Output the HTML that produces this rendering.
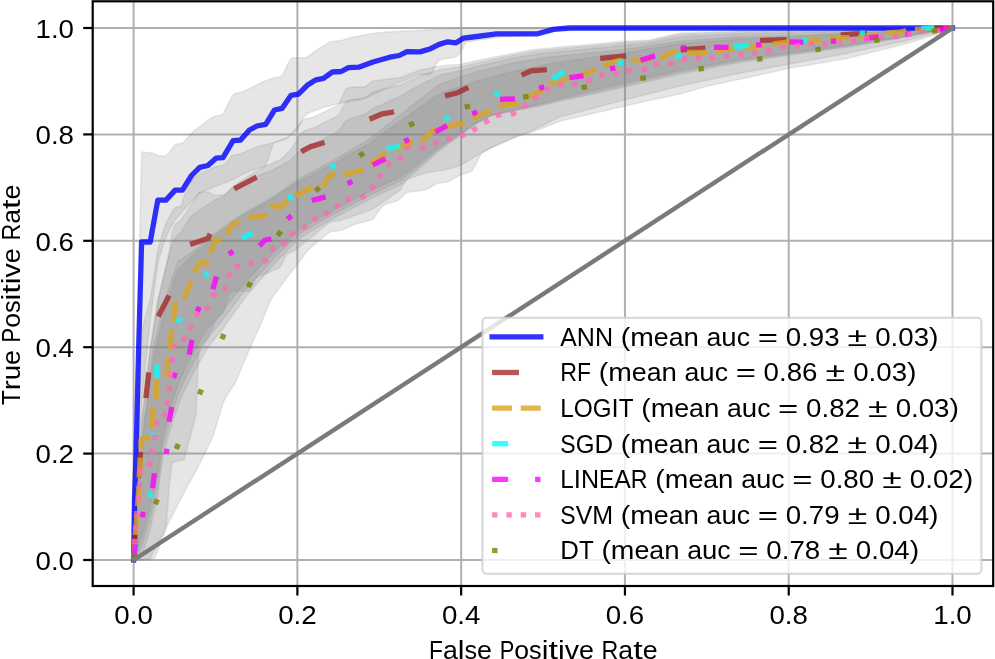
<!DOCTYPE html>
<html><head><meta charset="utf-8"><style>
html,body{margin:0;padding:0;background:#fff;}
svg{display:block;}
text{font-family:"Liberation Sans",sans-serif;fill:#000;}
svg{will-change:transform;}
</style></head><body>
<svg width="995" height="659" viewBox="0 0 995 659">
<rect width="995" height="659" fill="#fff"/>
<line x1="133.60" y1="1.3" x2="133.60" y2="586.0" stroke="#b0b0b0" stroke-width="2"/>
<line x1="92.7" y1="560.00" x2="993.2" y2="560.00" stroke="#b0b0b0" stroke-width="2"/>
<line x1="297.38" y1="1.3" x2="297.38" y2="586.0" stroke="#b0b0b0" stroke-width="2"/>
<line x1="92.7" y1="453.60" x2="993.2" y2="453.60" stroke="#b0b0b0" stroke-width="2"/>
<line x1="461.16" y1="1.3" x2="461.16" y2="586.0" stroke="#b0b0b0" stroke-width="2"/>
<line x1="92.7" y1="347.20" x2="993.2" y2="347.20" stroke="#b0b0b0" stroke-width="2"/>
<line x1="624.94" y1="1.3" x2="624.94" y2="586.0" stroke="#b0b0b0" stroke-width="2"/>
<line x1="92.7" y1="240.80" x2="993.2" y2="240.80" stroke="#b0b0b0" stroke-width="2"/>
<line x1="788.72" y1="1.3" x2="788.72" y2="586.0" stroke="#b0b0b0" stroke-width="2"/>
<line x1="92.7" y1="134.40" x2="993.2" y2="134.40" stroke="#b0b0b0" stroke-width="2"/>
<line x1="952.50" y1="1.3" x2="952.50" y2="586.0" stroke="#b0b0b0" stroke-width="2"/>
<line x1="92.7" y1="28.00" x2="993.2" y2="28.00" stroke="#b0b0b0" stroke-width="2"/>
<polygon points="133.6,560.0 134.6,532.3 135.6,504.6 136.6,476.9 137.6,449.2 138.6,421.4 139.6,393.7 140.6,366.0 141.6,338.3 142.6,327.4 143.6,323.8 144.6,320.1 145.6,316.5 146.6,312.8 147.6,309.1 148.6,305.5 149.6,301.8 150.6,296.8 151.6,290.3 152.6,283.8 153.6,277.3 154.6,270.8 155.6,264.3 156.6,257.8 157.6,251.3 158.6,247.2 159.6,243.8 160.0,242.4 163.0,231.9 166.0,223.1 169.0,217.5 172.0,211.9 175.0,207.6 178.0,207.0 181.0,206.4 184.0,196.4 187.0,189.0 190.0,182.9 193.0,178.3 196.0,176.0 199.0,174.3 202.0,172.9 205.0,171.5 208.0,170.1 211.0,168.7 214.0,167.3 217.0,166.4 220.0,165.9 223.0,165.4 226.0,163.1 229.0,159.2 232.0,155.5 235.0,154.9 238.0,154.4 241.0,153.6 244.0,152.3 247.0,151.0 250.0,149.8 253.0,148.5 256.0,147.3 259.0,146.1 262.0,145.3 265.0,144.7 268.0,144.0 271.0,143.3 274.0,142.5 277.0,141.3 280.0,140.0 283.0,138.9 286.0,137.9 289.0,136.8 292.0,133.6 295.0,129.3 298.0,125.0 301.0,122.3 304.0,119.5 307.0,118.5 310.0,117.9 313.0,117.2 316.0,116.0 319.0,114.5 322.0,113.0 325.0,111.4 328.0,109.9 331.0,108.5 334.0,107.2 337.0,105.8 340.0,102.0 343.0,94.9 346.0,88.9 349.0,87.8 352.0,87.1 355.0,87.1 358.0,87.1 361.0,87.1 364.0,87.1 367.0,85.3 370.0,83.0 373.0,80.9 376.0,80.5 379.0,80.1 382.0,79.8 385.0,79.4 388.0,79.0 391.0,78.6 394.0,78.2 397.0,77.9 400.0,77.5 403.0,76.4 406.0,75.2 409.0,74.1 412.0,73.0 415.0,71.9 418.0,70.8 421.0,69.8 424.0,69.2 427.0,68.6 430.0,68.0 433.0,67.4 436.0,66.8 439.0,66.2 442.0,65.8 445.0,65.5 448.0,65.3 451.0,65.0 454.0,64.7 457.0,64.5 460.0,64.2 463.0,63.8 466.0,63.1 469.0,62.4 472.0,61.8 475.0,61.1 478.0,60.4 481.0,59.8 484.0,59.2 487.0,58.6 490.0,58.0 493.0,57.4 496.0,56.8 499.0,56.2 502.0,55.6 505.0,55.0 508.0,54.4 511.0,53.8 514.0,53.2 517.0,52.6 520.0,52.0 523.0,51.4 526.0,50.8 529.0,50.2 532.0,49.8 535.0,49.5 538.0,49.2 541.0,48.9 544.0,48.6 547.0,48.3 550.0,48.0 553.0,47.7 556.0,47.4 559.0,47.1 562.0,46.8 565.0,46.6 568.0,46.3 571.0,46.1 574.0,45.8 577.0,45.6 580.0,45.3 583.0,45.1 586.0,44.8 589.0,44.6 592.0,44.3 595.0,44.0 598.0,43.7 601.0,43.4 604.0,43.1 607.0,42.8 610.0,42.5 613.0,42.2 616.0,41.9 619.0,41.6 622.0,41.4 625.0,41.2 628.0,41.1 631.0,41.0 634.0,40.8 637.0,40.6 640.0,40.5 643.0,40.4 646.0,40.2 649.0,40.0 652.0,39.5 655.0,38.8 658.0,38.1 661.0,37.4 664.0,36.7 667.0,36.0 670.0,35.3 673.0,34.6 676.0,33.9 679.0,33.2 682.0,32.9 685.0,32.8 688.0,32.8 691.0,32.7 694.0,32.6 697.0,32.5 700.0,32.4 703.0,32.3 706.0,32.2 709.0,32.1 712.0,32.0 715.0,31.9 718.0,31.8 721.0,31.8 724.0,31.7 727.0,31.6 730.0,31.5 733.0,31.4 736.0,31.3 739.0,31.2 742.0,31.1 745.0,31.1 748.0,31.0 751.0,30.9 754.0,30.8 757.0,30.7 760.0,30.7 763.0,30.6 766.0,30.5 769.0,30.4 772.0,30.3 775.0,30.3 778.0,30.2 781.0,30.1 784.0,30.0 787.0,29.9 790.0,29.9 793.0,29.8 796.0,29.8 799.0,29.8 802.0,29.8 805.0,29.8 808.0,29.8 811.0,29.8 814.0,29.8 817.0,29.8 820.0,29.8 823.0,29.8 826.0,29.8 829.0,29.8 832.0,29.8 835.0,29.8 838.0,29.8 841.0,29.8 844.0,29.8 847.0,29.8 850.0,29.8 853.0,29.7 856.0,29.6 859.0,29.6 862.0,29.5 865.0,29.4 868.0,29.3 871.0,29.2 874.0,29.2 877.0,29.1 880.0,29.0 883.0,28.9 886.0,28.9 889.0,28.8 892.0,28.7 895.0,28.6 898.0,28.6 901.0,28.5 904.0,28.4 907.0,28.4 910.0,28.4 913.0,28.3 916.0,28.3 919.0,28.3 922.0,28.3 925.0,28.2 928.0,28.2 931.0,28.2 934.0,28.2 937.0,28.1 940.0,28.1 943.0,28.1 946.0,28.1 949.0,28.0 952.0,28.0 952.5,28.0 952.5,28.0 952.0,28.2 949.0,29.5 946.0,30.9 943.0,32.2 940.0,33.5 937.0,34.4 934.0,35.3 931.0,36.2 928.0,37.1 925.0,38.0 922.0,38.9 919.0,39.8 916.0,40.7 913.0,41.6 910.0,42.5 907.0,43.4 904.0,44.2 901.0,45.0 898.0,45.8 895.0,46.5 892.0,47.2 889.0,48.0 886.0,48.8 883.0,49.5 880.0,50.2 877.0,51.0 874.0,51.8 871.0,52.5 868.0,53.2 865.0,54.0 862.0,54.8 859.0,55.5 856.0,56.2 853.0,57.0 850.0,57.8 847.0,58.4 844.0,58.9 841.0,59.4 838.0,60.0 835.0,60.5 832.0,61.0 829.0,61.6 826.0,62.1 823.0,62.6 820.0,63.2 817.0,63.6 814.0,64.1 811.0,64.6 808.0,65.1 805.0,65.6 802.0,66.1 799.0,66.5 796.0,67.0 793.0,67.5 790.0,68.0 787.0,68.7 784.0,69.4 781.0,70.1 778.0,70.8 775.0,71.5 772.0,72.2 769.0,72.8 766.0,73.5 763.0,74.2 760.0,74.9 757.0,75.5 754.0,76.1 751.0,76.8 748.0,77.4 745.0,78.1 742.0,78.7 739.0,79.4 736.0,80.0 733.0,80.6 730.0,81.3 727.0,81.9 724.0,82.6 721.0,83.2 718.0,83.9 715.0,84.5 712.0,85.1 709.0,85.8 706.0,86.6 703.0,87.4 700.0,88.3 697.0,89.1 694.0,90.0 691.0,90.9 688.0,91.7 685.0,92.6 682.0,93.4 679.0,94.2 676.0,94.8 673.0,95.4 670.0,96.1 667.0,96.7 664.0,97.3 661.0,97.9 658.0,98.6 655.0,99.2 652.0,99.8 649.0,100.5 646.0,101.2 643.0,101.9 640.0,102.6 637.0,103.3 634.0,104.0 631.0,104.7 628.0,105.3 625.0,106.0 622.0,106.7 619.0,107.4 616.0,108.1 613.0,108.8 610.0,109.5 607.0,110.2 604.0,110.9 601.0,111.6 598.0,112.3 595.0,113.0 592.0,113.7 589.0,114.4 586.0,115.1 583.0,115.8 580.0,116.5 577.0,117.2 574.0,117.9 571.0,118.6 568.0,119.3 565.0,120.0 562.0,120.7 559.0,121.6 556.0,122.8 553.0,123.9 550.0,125.1 547.0,126.2 544.0,127.4 541.0,128.6 538.0,129.7 535.0,130.9 532.0,132.0 529.0,133.0 526.0,133.8 523.0,134.5 520.0,135.3 517.0,136.0 514.0,137.5 511.0,139.0 508.0,140.5 505.0,141.9 502.0,143.2 499.0,144.4 496.0,145.7 493.0,147.0 490.0,148.5 487.0,150.3 484.0,152.1 481.0,153.9 478.0,159.8 475.0,165.8 472.0,171.1 469.0,172.1 466.0,173.2 463.0,174.2 460.0,175.2 457.0,176.8 454.0,178.6 451.0,180.4 448.0,181.8 445.0,182.3 442.0,182.8 439.0,183.3 436.0,184.0 433.0,185.7 430.0,187.5 427.0,189.3 424.0,190.3 421.0,190.6 418.0,191.0 415.0,191.3 412.0,191.7 409.0,192.0 406.0,192.8 403.0,195.8 400.0,198.8 397.0,201.1 394.0,201.9 391.0,202.8 388.0,203.6 385.0,204.5 382.0,206.5 379.0,210.8 376.0,215.0 373.0,219.2 370.0,220.5 367.0,221.3 364.0,222.0 361.0,222.7 358.0,223.5 355.0,224.3 352.0,225.6 349.0,226.9 346.0,228.2 343.0,229.5 340.0,230.6 337.0,230.9 334.0,231.2 331.0,231.5 328.0,233.3 325.0,235.8 322.0,238.3 319.0,240.8 316.0,243.3 313.0,245.8 310.0,248.3 307.0,251.2 304.0,255.2 301.0,259.2 298.0,263.2 295.0,267.1 292.0,271.1 289.0,275.1 286.0,279.1 283.0,283.1 280.0,287.1 277.0,291.1 274.0,295.1 271.0,299.6 268.0,306.8 265.0,314.0 262.0,321.2 259.0,328.4 256.0,335.0 253.0,341.6 250.0,348.2 247.0,354.9 244.0,362.1 241.0,369.2 238.0,376.4 235.0,383.6 232.0,388.1 229.0,392.5 226.0,397.0 223.0,403.3 220.0,413.3 217.0,423.3 214.0,433.3 211.0,441.0 208.0,447.0 205.0,453.1 202.0,459.1 199.0,464.9 196.0,470.5 193.0,476.1 190.0,481.7 187.0,487.3 184.0,492.9 181.0,498.4 178.0,504.3 175.0,510.2 172.0,516.1 169.0,522.1 166.0,528.0 163.0,533.9 160.0,539.7 159.6,540.4 158.6,542.4 157.6,544.3 156.6,546.2 155.6,548.2 154.6,550.1 153.6,552.0 152.6,554.0 151.6,555.9 150.6,557.8 149.6,559.0 148.6,559.2 147.6,559.3 146.6,559.4 145.6,559.5 144.6,559.7 143.6,559.8 142.6,559.9 141.6,560.0 140.6,560.0 139.6,560.0 138.6,560.0 137.6,560.0 136.6,560.0 135.6,560.0 134.6,560.0 133.6,560.0" fill="#808080" fill-opacity="0.2" stroke="#808080" stroke-opacity="0.15" stroke-width="1.6"/>
<polygon points="133.6,560.0 134.6,543.1 135.6,526.3 136.6,509.4 137.6,492.5 138.6,475.7 139.6,458.8 140.6,441.9 141.6,425.1 142.6,414.0 143.6,405.5 144.6,397.0 145.6,388.4 146.6,379.9 147.6,371.3 148.6,362.8 149.6,354.3 150.6,346.8 151.6,340.5 152.6,334.2 153.6,327.8 154.6,321.5 155.6,315.2 156.6,308.9 157.6,302.5 158.6,297.5 159.6,293.3 160.0,291.7 163.0,279.2 166.0,266.7 169.0,254.2 172.0,232.6 175.0,224.1 178.0,222.1 181.0,220.1 184.0,215.6 187.0,211.1 190.0,206.6 193.0,201.9 196.0,197.1 199.0,192.7 202.0,192.2 205.0,191.7 208.0,191.9 211.0,193.4 214.0,195.0 217.0,195.4 220.0,195.1 223.0,194.9 226.0,193.3 229.0,190.5 232.0,187.8 235.0,185.0 238.0,183.0 241.0,181.0 244.0,179.0 247.0,177.0 250.0,175.0 253.0,173.3 256.0,171.6 259.0,169.9 262.0,168.2 265.0,166.6 268.0,165.1 271.0,163.9 274.0,162.6 277.0,161.3 280.0,160.0 283.0,157.1 286.0,154.3 289.0,151.5 292.0,147.8 295.0,142.9 298.0,137.4 301.0,133.3 304.0,130.8 307.0,129.7 310.0,128.8 313.0,128.0 316.0,126.7 319.0,125.2 322.0,123.6 325.0,122.1 328.0,120.6 331.0,119.1 334.0,117.7 337.0,116.3 340.0,112.9 343.0,106.9 346.0,101.7 349.0,100.5 352.0,99.6 355.0,99.2 358.0,98.9 361.0,98.5 364.0,98.2 367.0,96.3 370.0,94.1 373.0,91.9 376.0,91.2 379.0,90.4 382.0,89.6 385.0,88.8 388.0,88.1 391.0,87.3 394.0,86.5 397.0,85.8 400.0,85.0 403.0,83.6 406.0,82.3 409.0,80.9 412.0,79.5 415.0,78.2 418.0,76.8 421.0,75.6 424.0,74.6 427.0,73.7 430.0,72.8 433.0,71.8 436.0,70.9 439.0,69.9 442.0,69.3 445.0,68.9 448.0,68.5 451.0,68.1 454.0,67.6 457.0,67.2 460.0,66.8 463.0,66.3 466.0,65.6 469.0,64.8 472.0,64.1 475.0,63.4 478.0,62.7 481.0,62.0 484.0,61.4 487.0,60.7 490.0,60.1 493.0,59.5 496.0,58.9 499.0,58.2 502.0,57.6 505.0,57.0 508.0,56.4 511.0,55.7 514.0,55.1 517.0,54.5 520.0,54.0 523.0,53.4 526.0,52.8 529.0,52.2 532.0,51.8 535.0,51.5 538.0,51.1 541.0,50.8 544.0,50.4 547.0,50.1 550.0,49.8 553.0,49.5 556.0,49.2 559.0,48.9 562.0,48.6 565.0,48.4 568.0,48.1 571.0,47.8 574.0,47.6 577.0,47.3 580.0,47.1 583.0,46.8 586.0,46.5 589.0,46.3 592.0,46.0 595.0,45.7 598.0,45.4 601.0,45.1 604.0,44.8 607.0,44.5 610.0,44.2 613.0,43.9 616.0,43.6 619.0,43.3 622.0,43.1 625.0,42.9 628.0,42.6 631.0,42.4 634.0,42.2 637.0,42.0 640.0,41.8 643.0,41.6 646.0,41.4 649.0,41.2 652.0,40.7 655.0,40.0 658.0,39.4 661.0,38.7 664.0,38.1 667.0,37.4 670.0,36.8 673.0,36.1 676.0,35.5 679.0,34.8 682.0,34.5 685.0,34.4 688.0,34.3 691.0,34.2 694.0,34.1 697.0,33.9 700.0,33.8 703.0,33.7 706.0,33.6 709.0,33.5 712.0,33.4 715.0,33.2 718.0,33.1 721.0,33.0 724.0,32.9 727.0,32.8 730.0,32.7 733.0,32.6 736.0,32.4 739.0,32.4 742.0,32.3 745.0,32.2 748.0,32.1 751.0,32.0 754.0,32.0 757.0,31.9 760.0,31.8 763.0,31.7 766.0,31.6 769.0,31.6 772.0,31.5 775.0,31.4 778.0,31.3 781.0,31.2 784.0,31.2 787.0,31.1 790.0,31.0 793.0,30.9 796.0,30.9 799.0,30.9 802.0,30.8 805.0,30.8 808.0,30.8 811.0,30.8 814.0,30.7 817.0,30.7 820.0,30.7 823.0,30.6 826.0,30.6 829.0,30.6 832.0,30.5 835.0,30.5 838.0,30.5 841.0,30.5 844.0,30.4 847.0,30.4 850.0,30.4 853.0,30.3 856.0,30.2 859.0,30.1 862.0,30.0 865.0,29.9 868.0,29.9 871.0,29.8 874.0,29.7 877.0,29.6 880.0,29.5 883.0,29.5 886.0,29.4 889.0,29.3 892.0,29.2 895.0,29.1 898.0,29.1 901.0,29.0 904.0,28.9 907.0,28.8 910.0,28.8 913.0,28.7 916.0,28.7 919.0,28.6 922.0,28.6 925.0,28.5 928.0,28.4 931.0,28.4 934.0,28.3 937.0,28.3 940.0,28.2 943.0,28.2 946.0,28.1 949.0,28.1 952.0,28.0 952.5,28.0 952.5,28.0 952.0,28.1 949.0,29.0 946.0,29.9 943.0,30.7 940.0,31.6 937.0,32.5 934.0,33.3 931.0,34.2 928.0,35.0 925.0,35.8 922.0,36.6 919.0,37.4 916.0,38.1 913.0,38.9 910.0,39.7 907.0,40.5 904.0,41.2 901.0,41.9 898.0,42.5 895.0,43.1 892.0,43.8 889.0,44.4 886.0,45.1 883.0,45.7 880.0,46.4 877.0,47.0 874.0,47.6 871.0,48.3 868.0,48.9 865.0,49.6 862.0,50.2 859.0,50.9 856.0,51.5 853.0,52.1 850.0,52.8 847.0,53.4 844.0,53.9 841.0,54.5 838.0,55.1 835.0,55.6 832.0,56.2 829.0,56.7 826.0,57.3 823.0,57.8 820.0,58.4 817.0,59.0 814.0,59.5 811.0,60.1 808.0,60.6 805.0,61.2 802.0,61.8 799.0,62.3 796.0,62.9 793.0,63.4 790.0,64.0 787.0,64.6 784.0,65.1 781.0,65.7 778.0,66.2 775.0,66.8 772.0,67.3 769.0,67.9 766.0,68.4 763.0,69.0 760.0,69.6 757.0,70.1 754.0,70.7 751.0,71.2 748.0,71.8 745.0,72.3 742.0,72.9 739.0,73.4 736.0,74.0 733.0,74.6 730.0,75.3 727.0,75.9 724.0,76.6 721.0,77.2 718.0,77.9 715.0,78.5 712.0,79.1 709.0,79.8 706.0,80.4 703.0,81.1 700.0,81.7 697.0,82.4 694.0,83.0 691.0,83.6 688.0,84.3 685.0,84.9 682.0,85.6 679.0,86.2 676.0,87.0 673.0,87.8 670.0,88.5 667.0,89.2 664.0,90.0 661.0,90.8 658.0,91.5 655.0,92.2 652.0,93.0 649.0,93.8 646.0,94.5 643.0,95.2 640.0,96.0 637.0,96.8 634.0,97.5 631.0,98.2 628.0,99.0 625.0,99.8 622.0,100.5 619.0,101.3 616.0,102.1 613.0,102.9 610.0,103.7 607.0,104.5 604.0,105.3 601.0,106.1 598.0,106.9 595.0,107.7 592.0,108.5 589.0,109.3 586.0,110.1 583.0,110.9 580.0,111.7 577.0,112.5 574.0,113.3 571.0,114.1 568.0,114.9 565.0,115.7 562.0,116.5 559.0,117.5 556.0,119.0 553.0,120.4 550.0,121.9 547.0,123.4 544.0,124.8 541.0,126.3 538.0,127.8 535.0,129.2 532.0,130.7 529.0,132.1 526.0,133.3 523.0,134.4 520.0,135.6 517.0,136.8 514.0,137.9 511.0,139.1 508.0,140.3 505.0,141.4 502.0,142.6 499.0,143.9 496.0,145.4 493.0,146.9 490.0,148.4 487.0,149.9 484.0,151.4 481.0,153.1 478.0,155.0 475.0,156.9 472.0,158.6 469.0,160.3 466.0,162.0 463.0,163.8 460.0,165.5 457.0,166.5 454.0,167.4 451.0,168.3 448.0,169.1 445.0,169.6 442.0,170.2 439.0,170.7 436.0,171.2 433.0,171.8 430.0,172.3 427.0,172.8 424.0,173.6 421.0,174.6 418.0,175.6 415.0,176.7 412.0,177.7 409.0,178.7 406.0,180.3 403.0,185.3 400.0,190.2 397.0,192.3 394.0,194.3 391.0,196.4 388.0,198.5 385.0,200.6 382.0,202.7 379.0,204.8 376.0,206.9 373.0,209.0 370.0,210.2 367.0,211.3 364.0,212.3 361.0,213.4 358.0,214.5 355.0,215.5 352.0,216.6 349.0,217.7 346.0,218.8 343.0,219.8 340.0,220.4 337.0,220.9 334.0,221.3 331.0,221.8 328.0,223.6 325.0,226.1 322.0,228.5 319.0,231.0 316.0,233.4 313.0,235.9 310.0,238.3 307.0,240.8 304.0,243.2 301.0,245.7 298.0,248.1 295.0,250.4 292.0,251.9 289.0,253.4 286.0,254.9 283.0,262.5 280.0,267.5 277.0,268.8 274.0,270.1 271.0,271.4 268.0,272.7 265.0,274.0 262.0,275.0 259.0,276.0 256.0,278.5 253.0,284.5 250.0,290.5 247.0,291.3 244.0,291.3 241.0,291.3 238.0,291.3 235.0,291.3 232.0,291.3 229.0,294.8 226.0,303.8 223.0,312.9 220.0,316.1 217.0,319.0 214.0,324.1 211.0,331.1 208.0,337.7 205.0,340.7 202.0,343.8 199.0,346.8 196.0,415.3 193.0,426.6 190.0,437.7 187.0,448.7 184.0,459.6 181.0,460.6 178.0,461.3 175.0,461.9 172.0,462.6 169.0,489.7 166.0,529.2 163.0,537.0 160.0,544.9 159.6,546.0 158.6,548.6 157.6,551.2 156.6,553.8 155.6,556.4 154.6,558.1 153.6,558.2 152.6,558.4 151.6,558.5 150.6,558.7 149.6,558.8 148.6,559.0 147.6,559.1 146.6,559.3 145.6,559.4 144.6,559.6 143.6,559.7 142.6,559.9 141.6,560.0 140.6,560.0 139.6,560.0 138.6,560.0 137.6,560.0 136.6,560.0 135.6,560.0 134.6,560.0 133.6,560.0" fill="#808080" fill-opacity="0.2" stroke="#808080" stroke-opacity="0.15" stroke-width="1.6"/>
<polygon points="133.6,560.0 134.6,543.1 135.6,526.3 136.6,509.4 137.6,492.5 138.6,475.7 139.6,458.8 140.6,441.9 141.6,425.1 142.6,414.0 143.6,405.5 144.6,397.0 145.6,388.4 146.6,379.9 147.6,371.3 148.6,362.8 149.6,354.3 150.6,346.8 151.6,340.5 152.6,334.2 153.6,327.8 154.6,321.5 155.6,315.2 156.6,308.9 157.6,302.5 158.6,297.5 159.6,293.3 160.0,291.7 163.0,279.2 166.0,266.7 169.0,254.2 172.0,245.2 175.0,238.5 178.0,234.3 181.0,233.0 184.0,226.9 187.0,222.2 190.0,218.1 193.0,214.8 196.0,212.5 199.0,210.4 202.0,208.5 205.0,206.5 208.0,204.6 211.0,202.7 214.0,200.7 217.0,199.1 220.0,197.8 223.0,196.4 226.0,194.2 229.0,191.2 232.0,188.3 235.0,186.9 238.0,185.6 241.0,184.2 244.0,182.7 247.0,181.2 250.0,179.8 253.0,178.3 256.0,176.9 259.0,175.4 262.0,174.2 265.0,173.1 268.0,171.9 271.0,170.7 274.0,169.3 277.0,167.6 280.0,166.0 283.0,164.4 286.0,162.8 289.0,161.3 292.0,158.6 295.0,155.4 298.0,152.2 301.0,149.9 304.0,147.7 307.0,146.4 310.0,145.3 313.0,144.2 316.0,142.8 319.0,141.2 322.0,139.7 325.0,138.1 328.0,136.5 331.0,135.1 334.0,133.6 337.0,132.0 340.0,129.2 343.0,124.8 346.0,120.9 349.0,119.5 352.0,118.3 355.0,117.4 358.0,116.5 361.0,115.6 364.0,114.7 367.0,112.9 370.0,110.7 373.0,108.5 376.0,107.1 379.0,105.8 382.0,104.4 385.0,103.0 388.0,101.7 391.0,100.3 394.0,99.0 397.0,97.6 400.0,96.2 403.0,94.5 406.0,92.8 409.0,91.1 412.0,89.3 415.0,87.6 418.0,85.9 421.0,84.3 424.0,82.8 427.0,81.3 430.0,79.9 433.0,78.4 436.0,76.9 439.0,75.5 442.0,74.6 445.0,73.9 448.0,73.3 451.0,72.7 454.0,72.0 457.0,71.4 460.0,70.8 463.0,70.1 466.0,69.2 469.0,68.4 472.0,67.6 475.0,66.7 478.0,66.0 481.0,65.3 484.0,64.6 487.0,64.0 490.0,63.3 493.0,62.6 496.0,62.0 499.0,61.3 502.0,60.6 505.0,60.0 508.0,59.3 511.0,58.6 514.0,58.0 517.0,57.5 520.0,56.9 523.0,56.4 526.0,55.8 529.0,55.3 532.0,54.8 535.0,54.4 538.0,54.0 541.0,53.6 544.0,53.2 547.0,52.8 550.0,52.5 553.0,52.2 556.0,51.9 559.0,51.6 562.0,51.3 565.0,51.0 568.0,50.7 571.0,50.5 574.0,50.2 577.0,49.9 580.0,49.7 583.0,49.4 586.0,49.1 589.0,48.8 592.0,48.5 595.0,48.2 598.0,48.0 601.0,47.6 604.0,47.4 607.0,47.0 610.0,46.8 613.0,46.5 616.0,46.1 619.0,45.9 622.0,45.5 625.0,45.2 628.0,45.0 631.0,44.7 634.0,44.3 637.0,44.0 640.0,43.8 643.0,43.5 646.0,43.2 649.0,42.8 652.0,42.4 655.0,41.8 658.0,41.2 661.0,40.6 664.0,40.1 667.0,39.5 670.0,38.9 673.0,38.3 676.0,37.8 679.0,37.2 682.0,36.9 685.0,36.7 688.0,36.6 691.0,36.4 694.0,36.3 697.0,36.1 700.0,36.0 703.0,35.8 706.0,35.7 709.0,35.5 712.0,35.4 715.0,35.2 718.0,35.1 721.0,34.9 724.0,34.8 727.0,34.6 730.0,34.5 733.0,34.3 736.0,34.1 739.0,34.1 742.0,34.0 745.0,33.9 748.0,33.8 751.0,33.7 754.0,33.7 757.0,33.6 760.0,33.5 763.0,33.4 766.0,33.3 769.0,33.3 772.0,33.2 775.0,33.1 778.0,33.0 781.0,32.9 784.0,32.9 787.0,32.8 790.0,32.7 793.0,32.6 796.0,32.6 799.0,32.5 802.0,32.4 805.0,32.3 808.0,32.3 811.0,32.2 814.0,32.1 817.0,32.0 820.0,32.0 823.0,31.9 826.0,31.8 829.0,31.7 832.0,31.7 835.0,31.6 838.0,31.5 841.0,31.4 844.0,31.4 847.0,31.3 850.0,31.2 853.0,31.1 856.0,31.0 859.0,30.9 862.0,30.9 865.0,30.8 868.0,30.7 871.0,30.6 874.0,30.5 877.0,30.4 880.0,30.3 883.0,30.2 886.0,30.1 889.0,30.0 892.0,29.9 895.0,29.9 898.0,29.8 901.0,29.7 904.0,29.6 907.0,29.5 910.0,29.4 913.0,29.3 916.0,29.2 919.0,29.1 922.0,29.0 925.0,28.9 928.0,28.8 931.0,28.7 934.0,28.6 937.0,28.5 940.0,28.4 943.0,28.3 946.0,28.2 949.0,28.1 952.0,28.0 952.5,28.0 952.5,28.0 952.0,28.1 949.0,28.6 946.0,29.2 943.0,29.7 940.0,30.2 937.0,30.8 934.0,31.3 931.0,31.9 928.0,32.4 925.0,32.9 922.0,33.5 919.0,34.0 916.0,34.5 913.0,35.1 910.0,35.6 907.0,36.2 904.0,36.7 901.0,37.2 898.0,37.7 895.0,38.2 892.0,38.7 889.0,39.2 886.0,39.7 883.0,40.2 880.0,40.8 877.0,41.3 874.0,41.8 871.0,42.3 868.0,42.8 865.0,43.3 862.0,43.8 859.0,44.3 856.0,44.8 853.0,45.3 850.0,45.8 847.0,46.3 844.0,46.7 841.0,47.1 838.0,47.5 835.0,47.9 832.0,48.3 829.0,48.7 826.0,49.0 823.0,49.4 820.0,49.8 817.0,50.2 814.0,50.6 811.0,51.0 808.0,51.4 805.0,51.8 802.0,52.2 799.0,52.6 796.0,53.0 793.0,53.4 790.0,53.8 787.0,54.2 784.0,54.7 781.0,55.1 778.0,55.5 775.0,56.0 772.0,56.4 769.0,56.8 766.0,57.2 763.0,57.7 760.0,58.1 757.0,58.5 754.0,59.0 751.0,59.4 748.0,59.8 745.0,60.3 742.0,60.7 739.0,61.1 736.0,61.6 733.0,62.1 730.0,62.7 727.0,63.3 724.0,63.8 721.0,64.4 718.0,65.0 715.0,65.5 712.0,66.1 709.0,66.6 706.0,67.2 703.0,67.8 700.0,68.3 697.0,68.9 694.0,69.5 691.0,70.0 688.0,70.6 685.0,71.2 682.0,71.7 679.0,72.3 676.0,73.0 673.0,73.7 670.0,74.4 667.0,75.1 664.0,75.8 661.0,76.5 658.0,77.2 655.0,77.9 652.0,78.6 649.0,79.3 646.0,80.0 643.0,80.7 640.0,81.3 637.0,82.0 634.0,82.7 631.0,83.4 628.0,84.1 625.0,84.8 622.0,85.5 619.0,86.2 616.0,86.9 613.0,87.6 610.0,88.3 607.0,89.0 604.0,89.7 601.0,90.4 598.0,91.1 595.0,91.8 592.0,92.6 589.0,93.3 586.0,94.0 583.0,94.6 580.0,95.3 577.0,95.9 574.0,96.6 571.0,97.2 568.0,97.9 565.0,98.5 562.0,99.2 559.0,99.9 556.0,100.7 553.0,101.5 550.0,102.3 547.0,103.1 544.0,103.8 541.0,104.6 538.0,105.3 535.0,105.9 532.0,106.5 529.0,107.1 526.0,107.7 523.0,108.4 520.0,109.0 517.0,109.6 514.0,110.2 511.0,110.9 508.0,111.6 505.0,112.2 502.0,112.9 499.0,113.6 496.0,114.3 493.0,115.0 490.0,115.7 487.0,117.4 484.0,119.0 481.0,120.7 478.0,122.3 475.0,124.1 472.0,126.2 469.0,128.2 466.0,130.3 463.0,132.4 460.0,134.4 457.0,136.5 454.0,138.5 451.0,140.6 448.0,142.7 445.0,144.7 442.0,146.8 439.0,149.0 436.0,151.5 433.0,154.0 430.0,156.6 427.0,159.1 424.0,161.6 421.0,164.2 418.0,166.7 415.0,169.2 412.0,171.8 409.0,174.3 406.0,176.8 403.0,179.4 400.0,181.1 397.0,182.5 394.0,183.9 391.0,185.3 388.0,186.7 385.0,188.1 382.0,189.5 379.0,190.9 376.0,192.3 373.0,193.7 370.0,195.2 367.0,196.6 364.0,198.2 361.0,199.8 358.0,201.4 355.0,202.9 352.0,204.5 349.0,206.1 346.0,207.7 343.0,209.3 340.0,210.8 337.0,212.4 334.0,214.0 331.0,215.7 328.0,217.5 325.0,219.2 322.0,220.9 319.0,222.6 316.0,224.3 313.0,226.0 310.0,227.7 307.0,229.4 304.0,231.1 301.0,232.8 298.0,235.3 295.0,238.1 292.0,240.9 289.0,243.7 286.0,246.6 283.0,249.4 280.0,252.2 277.0,255.1 274.0,258.2 271.0,261.5 268.0,264.7 265.0,268.0 262.0,271.3 259.0,274.5 256.0,277.8 253.0,281.0 250.0,284.3 247.0,287.6 244.0,291.5 241.0,295.5 238.0,299.5 235.0,303.5 232.0,307.6 229.0,311.6 226.0,315.6 223.0,319.7 220.0,323.4 217.0,326.9 214.0,330.4 211.0,333.9 208.0,337.6 205.0,342.7 202.0,347.9 199.0,353.0 196.0,358.2 193.0,363.7 190.0,369.5 187.0,375.6 184.0,381.7 181.0,387.8 178.0,395.7 175.0,404.5 172.0,413.8 169.0,423.8 166.0,435.1 163.0,446.4 160.0,466.8 159.6,470.1 158.6,478.5 157.6,485.3 156.6,489.7 155.6,494.1 154.6,498.6 153.6,503.0 152.6,507.5 151.6,511.9 150.6,516.3 149.6,520.4 148.6,523.7 147.6,527.1 146.6,530.5 145.6,533.9 144.6,537.3 143.6,540.6 142.6,544.0 141.6,546.9 140.6,548.5 139.6,550.2 138.6,551.8 137.6,553.4 136.6,555.1 135.6,556.7 134.6,558.4 133.6,560.0" fill="#808080" fill-opacity="0.2" stroke="#808080" stroke-opacity="0.15" stroke-width="1.6"/>
<polygon points="133.6,560.0 134.6,545.5 135.6,531.1 136.6,516.6 137.6,502.2 138.6,487.7 139.6,473.3 140.6,458.8 141.6,444.3 142.6,434.3 143.6,426.1 144.6,417.9 145.6,409.7 146.6,401.5 147.6,393.4 148.6,385.2 149.6,377.0 150.6,368.8 151.6,360.6 152.6,352.5 153.6,347.1 154.6,343.0 155.6,338.8 156.6,334.7 157.6,330.6 158.6,326.4 159.6,322.3 160.0,320.7 163.0,308.3 166.0,296.9 169.0,287.7 172.0,278.5 175.0,269.4 178.0,261.6 181.0,259.5 184.0,257.4 187.0,255.4 190.0,253.3 193.0,251.2 196.0,249.0 199.0,246.5 202.0,244.1 205.0,241.6 208.0,239.1 211.0,236.7 214.0,234.2 217.0,231.8 220.0,229.7 223.0,227.5 226.0,225.4 229.0,223.2 232.0,221.1 235.0,218.9 238.0,216.8 241.0,214.8 244.0,213.1 247.0,211.4 250.0,209.8 253.0,208.1 256.0,206.4 259.0,204.8 262.0,203.1 265.0,201.5 268.0,199.8 271.0,198.1 274.0,196.1 277.0,194.0 280.0,191.9 283.0,189.9 286.0,187.8 289.0,185.7 292.0,183.6 295.0,181.5 298.0,179.4 301.0,177.5 304.0,175.9 307.0,174.3 310.0,172.7 313.0,171.1 316.0,169.5 319.0,167.9 322.0,166.4 325.0,164.8 328.0,163.2 331.0,161.6 334.0,160.0 337.0,158.2 340.0,156.5 343.0,154.7 346.0,152.9 349.0,151.2 352.0,149.4 355.0,147.6 358.0,145.9 361.0,144.1 364.0,142.4 367.0,140.6 370.0,138.4 373.0,136.1 376.0,133.8 379.0,131.4 382.0,129.1 385.0,126.7 388.0,124.4 391.0,122.0 394.0,119.7 397.0,117.3 400.0,115.0 403.0,112.7 406.0,110.3 409.0,108.0 412.0,105.7 415.0,103.4 418.0,101.0 421.0,98.7 424.0,96.4 427.0,94.1 430.0,91.8 433.0,89.4 436.0,87.1 439.0,84.8 442.0,83.3 445.0,82.3 448.0,81.3 451.0,80.3 454.0,79.3 457.0,78.3 460.0,77.3 463.0,76.3 466.0,75.3 469.0,74.3 472.0,73.3 475.0,72.3 478.0,71.5 481.0,70.8 484.0,70.1 487.0,69.3 490.0,68.6 493.0,67.9 496.0,67.1 499.0,66.4 502.0,65.7 505.0,64.9 508.0,64.2 511.0,63.5 514.0,62.8 517.0,62.3 520.0,61.8 523.0,61.3 526.0,60.8 529.0,60.3 532.0,59.8 535.0,59.3 538.0,58.8 541.0,58.3 544.0,57.8 547.0,57.3 550.0,56.9 553.0,56.6 556.0,56.3 559.0,56.0 562.0,55.7 565.0,55.5 568.0,55.2 571.0,54.9 574.0,54.6 577.0,54.3 580.0,54.0 583.0,53.7 586.0,53.4 589.0,53.1 592.0,52.8 595.0,52.5 598.0,52.2 601.0,51.9 604.0,51.6 607.0,51.3 610.0,51.0 613.0,50.7 616.0,50.4 619.0,50.1 622.0,49.7 625.0,49.2 628.0,48.8 631.0,48.4 634.0,47.9 637.0,47.5 640.0,47.0 643.0,46.5 646.0,46.1 649.0,45.6 652.0,45.2 655.0,44.8 658.0,44.3 661.0,43.9 664.0,43.4 667.0,43.0 670.0,42.5 673.0,42.0 676.0,41.6 679.0,41.1 682.0,40.9 685.0,40.6 688.0,40.4 691.0,40.2 694.0,40.0 697.0,39.8 700.0,39.6 703.0,39.4 706.0,39.1 709.0,38.9 712.0,38.7 715.0,38.5 718.0,38.3 721.0,38.1 724.0,37.9 727.0,37.6 730.0,37.4 733.0,37.2 736.0,37.0 739.0,36.9 742.0,36.8 745.0,36.8 748.0,36.7 751.0,36.6 754.0,36.5 757.0,36.4 760.0,36.4 763.0,36.3 766.0,36.2 769.0,36.1 772.0,36.0 775.0,36.0 778.0,35.9 781.0,35.8 784.0,35.7 787.0,35.6 790.0,35.6 793.0,35.5 796.0,35.3 799.0,35.2 802.0,35.0 805.0,34.9 808.0,34.7 811.0,34.6 814.0,34.4 817.0,34.3 820.0,34.1 823.0,34.0 826.0,33.8 829.0,33.7 832.0,33.5 835.0,33.4 838.0,33.2 841.0,33.1 844.0,32.9 847.0,32.8 850.0,32.7 853.0,32.6 856.0,32.5 859.0,32.3 862.0,32.2 865.0,32.1 868.0,32.0 871.0,31.9 874.0,31.8 877.0,31.7 880.0,31.6 883.0,31.5 886.0,31.4 889.0,31.3 892.0,31.2 895.0,31.1 898.0,30.9 901.0,30.8 904.0,30.7 907.0,30.6 910.0,30.4 913.0,30.2 916.0,30.1 919.0,29.9 922.0,29.7 925.0,29.6 928.0,29.4 931.0,29.2 934.0,29.1 937.0,28.9 940.0,28.7 943.0,28.5 946.0,28.4 949.0,28.2 952.0,28.0 952.5,28.0 952.5,28.0 952.0,28.1 949.0,28.7 946.0,29.2 943.0,29.8 940.0,30.4 937.0,30.9 934.0,31.5 931.0,32.1 928.0,32.6 925.0,33.2 922.0,33.8 919.0,34.3 916.0,34.9 913.0,35.5 910.0,36.1 907.0,36.6 904.0,37.2 901.0,37.7 898.0,38.2 895.0,38.8 892.0,39.3 889.0,39.9 886.0,40.4 883.0,40.9 880.0,41.5 877.0,42.0 874.0,42.5 871.0,43.1 868.0,43.6 865.0,44.1 862.0,44.7 859.0,45.2 856.0,45.8 853.0,46.3 850.0,46.8 847.0,47.3 844.0,47.7 841.0,48.1 838.0,48.5 835.0,48.9 832.0,49.3 829.0,49.7 826.0,50.1 823.0,50.5 820.0,50.9 817.0,51.3 814.0,51.7 811.0,52.2 808.0,52.6 805.0,53.0 802.0,53.4 799.0,53.8 796.0,54.2 793.0,54.6 790.0,55.0 787.0,55.4 784.0,55.9 781.0,56.3 778.0,56.8 775.0,57.2 772.0,57.7 769.0,58.1 766.0,58.6 763.0,59.0 760.0,59.4 757.0,59.9 754.0,60.3 751.0,60.8 748.0,61.2 745.0,61.7 742.0,62.1 739.0,62.6 736.0,63.0 733.0,63.6 730.0,64.2 727.0,64.8 724.0,65.4 721.0,65.9 718.0,66.5 715.0,67.1 712.0,67.7 709.0,68.3 706.0,68.9 703.0,69.5 700.0,70.1 697.0,70.7 694.0,71.2 691.0,71.8 688.0,72.4 685.0,73.0 682.0,73.6 679.0,74.2 676.0,74.9 673.0,75.6 670.0,76.3 667.0,77.0 664.0,77.7 661.0,78.4 658.0,79.1 655.0,79.8 652.0,80.5 649.0,81.2 646.0,81.9 643.0,82.6 640.0,83.3 637.0,84.0 634.0,84.7 631.0,85.4 628.0,86.1 625.0,86.8 622.0,87.5 619.0,88.2 616.0,88.9 613.0,89.6 610.0,90.3 607.0,91.0 604.0,91.7 601.0,92.4 598.0,93.1 595.0,93.8 592.0,94.5 589.0,95.2 586.0,95.8 583.0,96.4 580.0,97.0 577.0,97.6 574.0,98.2 571.0,98.8 568.0,99.4 565.0,100.0 562.0,100.6 559.0,101.2 556.0,102.0 553.0,102.8 550.0,103.5 547.0,104.2 544.0,105.0 541.0,105.8 538.0,106.4 535.0,106.9 532.0,107.5 529.0,108.0 526.0,108.6 523.0,109.1 520.0,109.7 517.0,110.3 514.0,110.8 511.0,111.4 508.0,112.1 505.0,112.7 502.0,113.4 499.0,114.0 496.0,114.7 493.0,115.3 490.0,116.0 487.0,117.7 484.0,119.4 481.0,121.1 478.0,122.9 475.0,124.7 472.0,126.9 469.0,129.1 466.0,131.2 463.0,133.4 460.0,135.6 457.0,137.7 454.0,139.9 451.0,142.1 448.0,144.2 445.0,146.4 442.0,148.6 439.0,150.9 436.0,153.6 433.0,156.3 430.0,158.9 427.0,161.6 424.0,164.3 421.0,167.0 418.0,169.7 415.0,172.4 412.0,175.1 409.0,177.7 406.0,180.4 403.0,183.1 400.0,184.9 397.0,186.4 394.0,187.8 391.0,189.2 388.0,190.6 385.0,192.0 382.0,193.4 379.0,194.8 376.0,196.2 373.0,197.6 370.0,199.1 367.0,200.5 364.0,202.1 361.0,203.7 358.0,205.3 355.0,206.9 352.0,208.5 349.0,210.1 346.0,211.6 343.0,213.2 340.0,214.8 337.0,216.4 334.0,218.0 331.0,219.8 328.0,221.5 325.0,223.3 322.0,225.1 319.0,226.8 316.0,228.6 313.0,230.4 310.0,232.1 307.0,233.9 304.0,235.6 301.0,237.4 298.0,240.0 295.0,243.0 292.0,246.0 289.0,249.0 286.0,252.0 283.0,255.0 280.0,258.0 277.0,261.0 274.0,264.3 271.0,267.7 268.0,271.1 265.0,274.5 262.0,277.9 259.0,281.3 256.0,284.8 253.0,288.2 250.0,291.6 247.0,295.0 244.0,299.2 241.0,303.4 238.0,307.6 235.0,311.8 232.0,316.0 229.0,320.2 226.0,324.4 223.0,328.6 220.0,332.4 217.0,336.1 214.0,339.7 211.0,343.4 208.0,347.0 205.0,352.3 202.0,357.6 199.0,362.9 196.0,368.2 193.0,374.0 190.0,380.0 187.0,386.0 184.0,392.0 181.0,398.0 178.0,406.0 175.0,415.0 172.0,424.0 169.0,433.8 166.0,445.0 163.0,456.2 160.0,477.5 159.6,481.0 158.6,489.8 157.6,496.8 156.6,501.1 155.6,505.5 154.6,509.9 153.6,514.2 152.6,518.6 151.6,523.0 150.6,527.4 149.6,531.3 148.6,534.5 147.6,537.7 146.6,540.9 145.6,544.1 144.6,547.3 143.6,550.5 142.6,553.8 141.6,556.1 140.6,556.6 139.6,557.1 138.6,557.6 137.6,558.1 136.6,558.6 135.6,559.0 134.6,559.5 133.6,560.0" fill="#808080" fill-opacity="0.2" stroke="#808080" stroke-opacity="0.15" stroke-width="1.6"/>
<polygon points="133.6,560.0 134.6,546.0 135.6,532.0 136.6,518.1 137.6,504.1 138.6,490.1 139.6,476.1 140.6,462.2 141.6,448.2 142.6,438.7 143.6,431.2 144.6,423.7 145.6,416.1 146.6,408.6 147.6,401.1 148.6,393.5 149.6,386.0 150.6,378.5 151.6,370.9 152.6,363.4 153.6,358.1 154.6,353.8 155.6,349.5 156.6,345.2 157.6,340.9 158.6,336.6 159.6,332.3 160.0,330.5 163.0,318.2 166.0,306.7 169.0,297.0 172.0,287.2 175.0,277.5 178.0,269.9 181.0,266.8 184.0,263.8 187.0,260.7 190.0,257.6 193.0,255.2 196.0,252.7 199.0,250.0 202.0,247.3 205.0,244.5 208.0,241.8 211.0,239.2 214.0,236.7 217.0,234.3 220.0,232.1 223.0,229.9 226.0,227.6 229.0,225.4 232.0,223.2 235.0,221.0 238.0,218.8 241.0,216.7 244.0,215.0 247.0,213.3 250.0,211.6 253.0,209.9 256.0,208.2 259.0,206.5 262.0,204.7 265.0,203.0 268.0,201.3 271.0,199.6 274.0,197.7 277.0,195.6 280.0,193.6 283.0,191.6 286.0,189.7 289.0,187.8 292.0,185.9 295.0,184.0 298.0,182.1 301.0,180.3 304.0,178.8 307.0,177.3 310.0,175.8 313.0,174.3 316.0,172.7 319.0,171.2 322.0,169.7 325.0,168.2 328.0,166.7 331.0,165.2 334.0,163.6 337.0,161.9 340.0,160.2 343.0,158.5 346.0,156.8 349.0,155.0 352.0,153.3 355.0,151.6 358.0,149.9 361.0,148.2 364.0,146.5 367.0,144.8 370.0,142.8 373.0,140.6 376.0,138.4 379.0,136.2 382.0,134.1 385.0,132.0 388.0,129.9 391.0,127.7 394.0,125.6 397.0,123.5 400.0,121.4 403.0,119.3 406.0,117.2 409.0,115.1 412.0,113.0 415.0,110.9 418.0,108.8 421.0,106.7 424.0,104.6 427.0,102.5 430.0,100.4 433.0,98.3 436.0,96.2 439.0,94.2 442.0,92.8 445.0,91.8 448.0,90.8 451.0,89.8 454.0,88.7 457.0,87.7 460.0,86.7 463.0,85.7 466.0,84.7 469.0,83.7 472.0,82.6 475.0,81.6 478.0,80.8 481.0,80.0 484.0,79.1 487.0,78.3 490.0,77.5 493.0,76.7 496.0,75.9 499.0,75.1 502.0,74.3 505.0,73.5 508.0,72.7 511.0,71.9 514.0,71.2 517.0,70.6 520.0,69.9 523.0,69.3 526.0,68.7 529.0,68.1 532.0,67.5 535.0,66.8 538.0,66.2 541.0,65.6 544.0,65.0 547.0,64.3 550.0,63.8 553.0,63.3 556.0,62.8 559.0,62.4 562.0,61.9 565.0,61.4 568.0,61.0 571.0,60.5 574.0,60.1 577.0,59.6 580.0,59.1 583.0,58.7 586.0,58.2 589.0,57.7 592.0,57.3 595.0,56.8 598.0,56.3 601.0,55.9 604.0,55.5 607.0,55.1 610.0,54.8 613.0,54.4 616.0,54.0 619.0,53.7 622.0,53.2 625.0,52.7 628.0,52.2 631.0,51.8 634.0,51.3 637.0,50.8 640.0,50.3 643.0,49.8 646.0,49.3 649.0,48.8 652.0,48.4 655.0,47.9 658.0,47.4 661.0,46.9 664.0,46.4 667.0,45.9 670.0,45.4 673.0,44.9 676.0,44.5 679.0,44.0 682.0,43.6 685.0,43.4 688.0,43.2 691.0,42.9 694.0,42.7 697.0,42.4 700.0,42.2 703.0,42.0 706.0,41.7 709.0,41.5 712.0,41.3 715.0,41.0 718.0,40.8 721.0,40.5 724.0,40.3 727.0,40.1 730.0,39.8 733.0,39.6 736.0,39.3 739.0,39.2 742.0,39.1 745.0,38.9 748.0,38.8 751.0,38.7 754.0,38.5 757.0,38.4 760.0,38.3 763.0,38.2 766.0,38.0 769.0,37.9 772.0,37.8 775.0,37.7 778.0,37.5 781.0,37.4 784.0,37.3 787.0,37.2 790.0,37.0 793.0,36.9 796.0,36.7 799.0,36.5 802.0,36.4 805.0,36.2 808.0,36.0 811.0,35.8 814.0,35.7 817.0,35.5 820.0,35.3 823.0,35.1 826.0,34.9 829.0,34.8 832.0,34.6 835.0,34.4 838.0,34.2 841.0,34.1 844.0,33.9 847.0,33.7 850.0,33.5 853.0,33.4 856.0,33.3 859.0,33.1 862.0,33.0 865.0,32.8 868.0,32.7 871.0,32.6 874.0,32.4 877.0,32.3 880.0,32.1 883.0,32.0 886.0,31.9 889.0,31.7 892.0,31.6 895.0,31.5 898.0,31.3 901.0,31.2 904.0,31.0 907.0,30.9 910.0,30.7 913.0,30.5 916.0,30.3 919.0,30.1 922.0,29.9 925.0,29.7 928.0,29.5 931.0,29.4 934.0,29.2 937.0,29.0 940.0,28.8 943.0,28.6 946.0,28.4 949.0,28.2 952.0,28.0 952.5,28.0 952.5,28.0 952.0,28.1 949.0,28.6 946.0,29.1 943.0,29.6 940.0,30.1 937.0,30.6 934.0,31.1 931.0,31.6 928.0,32.1 925.0,32.7 922.0,33.2 919.0,33.7 916.0,34.2 913.0,34.7 910.0,35.2 907.0,35.7 904.0,36.2 901.0,36.7 898.0,37.2 895.0,37.6 892.0,38.1 889.0,38.6 886.0,39.1 883.0,39.6 880.0,40.0 877.0,40.5 874.0,41.0 871.0,41.5 868.0,42.0 865.0,42.5 862.0,42.9 859.0,43.4 856.0,43.9 853.0,44.4 850.0,44.9 847.0,45.3 844.0,45.7 841.0,46.0 838.0,46.4 835.0,46.8 832.0,47.2 829.0,47.6 826.0,48.0 823.0,48.4 820.0,48.7 817.0,49.1 814.0,49.5 811.0,49.9 808.0,50.3 805.0,50.7 802.0,51.1 799.0,51.4 796.0,51.8 793.0,52.2 790.0,52.6 787.0,53.0 784.0,53.4 781.0,53.8 778.0,54.3 775.0,54.7 772.0,55.1 769.0,55.5 766.0,55.9 763.0,56.3 760.0,56.8 757.0,57.2 754.0,57.6 751.0,58.0 748.0,58.4 745.0,58.9 742.0,59.3 739.0,59.7 736.0,60.1 733.0,60.7 730.0,61.2 727.0,61.8 724.0,62.3 721.0,62.8 718.0,63.4 715.0,63.9 712.0,64.5 709.0,65.0 706.0,65.5 703.0,66.1 700.0,66.6 697.0,67.1 694.0,67.7 691.0,68.2 688.0,68.8 685.0,69.3 682.0,69.8 679.0,70.4 676.0,71.1 673.0,71.8 670.0,72.5 667.0,73.2 664.0,73.9 661.0,74.6 658.0,75.2 655.0,75.9 652.0,76.6 649.0,77.3 646.0,78.0 643.0,78.7 640.0,79.4 637.0,80.1 634.0,80.7 631.0,81.4 628.0,82.1 625.0,82.8 622.0,83.5 619.0,84.2 616.0,84.9 613.0,85.6 610.0,86.2 607.0,86.9 604.0,87.6 601.0,88.3 598.0,89.1 595.0,89.8 592.0,90.6 589.0,91.4 586.0,92.1 583.0,92.8 580.0,93.5 577.0,94.2 574.0,95.0 571.0,95.7 568.0,96.4 565.0,97.1 562.0,97.8 559.0,98.5 556.0,99.4 553.0,100.2 550.0,101.0 547.0,101.9 544.0,102.7 541.0,103.5 538.0,104.2 535.0,104.9 532.0,105.6 529.0,106.2 526.0,106.9 523.0,107.6 520.0,108.2 517.0,108.9 514.0,109.6 511.0,110.3 508.0,111.0 505.0,111.8 502.0,112.5 499.0,113.2 496.0,114.0 493.0,114.7 490.0,115.5 487.0,117.1 484.0,118.6 481.0,120.2 478.0,121.8 475.0,123.5 472.0,125.5 469.0,127.4 466.0,129.4 463.0,131.3 460.0,133.3 457.0,135.2 454.0,137.2 451.0,139.1 448.0,141.1 445.0,143.0 442.0,145.0 439.0,147.1 436.0,149.4 433.0,151.8 430.0,154.2 427.0,156.5 424.0,158.9 421.0,161.3 418.0,163.7 415.0,166.1 412.0,168.5 409.0,170.9 406.0,173.3 403.0,175.6 400.0,177.4 397.0,178.7 394.0,180.1 391.0,181.5 388.0,182.8 385.0,184.2 382.0,185.6 379.0,187.0 376.0,188.4 373.0,189.8 370.0,191.2 367.0,192.7 364.0,194.3 361.0,195.9 358.0,197.4 355.0,199.0 352.0,200.6 349.0,202.1 346.0,203.7 343.0,205.3 340.0,206.9 337.0,208.4 334.0,210.0 331.0,211.7 328.0,213.4 325.0,215.0 322.0,216.7 319.0,218.3 316.0,220.0 313.0,221.6 310.0,223.3 307.0,224.9 304.0,226.6 301.0,228.2 298.0,230.6 295.0,233.2 292.0,235.8 289.0,238.5 286.0,241.1 283.0,243.8 280.0,246.4 277.0,249.2 274.0,252.2 271.0,255.3 268.0,258.4 265.0,261.5 262.0,264.6 259.0,267.7 256.0,270.8 253.0,273.9 250.0,277.0 247.0,280.1 244.0,283.9 241.0,287.6 238.0,291.4 235.0,295.3 232.0,299.1 229.0,303.0 226.0,306.9 223.0,310.7 220.0,314.3 217.0,317.7 214.0,321.1 211.0,324.5 208.0,328.1 205.0,333.1 202.0,338.1 199.0,343.1 196.0,348.1 193.0,353.4 190.0,359.0 187.0,365.2 184.0,371.4 181.0,377.6 178.0,385.4 175.0,394.0 172.0,403.6 169.0,413.8 166.0,425.2 163.0,436.6 160.0,456.0 159.6,459.2 158.6,467.2 157.6,473.8 156.6,478.3 155.6,482.8 154.6,487.3 153.6,491.8 152.6,496.3 151.6,500.8 150.6,505.3 149.6,509.4 148.6,513.0 147.6,516.5 146.6,520.1 145.6,523.6 144.6,527.2 143.6,530.8 142.6,534.3 141.6,537.6 140.6,540.4 139.6,543.2 138.6,546.0 137.6,548.8 136.6,551.6 135.6,554.4 134.6,557.2 133.6,560.0" fill="#808080" fill-opacity="0.2" stroke="#808080" stroke-opacity="0.15" stroke-width="1.6"/>
<polygon points="133.6,560.0 134.6,507.7 135.6,455.4 136.6,403.0 137.6,350.7 138.6,298.4 139.6,246.1 140.6,193.8 141.6,151.9 142.6,152.0 143.6,152.2 144.6,152.3 145.6,152.4 146.6,152.5 147.6,152.6 148.6,152.7 149.6,152.8 150.6,153.0 151.6,153.1 152.6,153.2 153.6,153.6 154.6,154.0 155.6,154.4 156.6,154.8 157.6,155.2 158.6,155.6 159.6,155.7 160.0,155.7 163.0,155.7 166.0,155.7 169.0,152.5 172.0,148.6 175.0,144.8 178.0,143.9 181.0,143.4 184.0,141.8 187.0,138.4 190.0,135.0 193.0,131.7 196.0,129.5 199.0,127.2 202.0,125.0 205.0,122.7 208.0,120.5 211.0,118.2 214.0,116.5 217.0,115.7 220.0,115.0 223.0,114.2 226.0,108.2 229.0,102.3 232.0,96.3 235.0,93.6 238.0,92.9 241.0,92.1 244.0,91.2 247.0,89.7 250.0,88.2 253.0,86.7 256.0,85.2 259.0,83.7 262.0,82.2 265.0,80.9 268.0,79.8 271.0,78.7 274.0,77.7 277.0,77.2 280.0,76.8 283.0,74.4 286.0,68.1 289.0,61.7 292.0,57.7 295.0,57.7 298.0,57.7 301.0,57.7 304.0,57.7 307.0,56.9 310.0,54.8 313.0,52.7 316.0,50.6 319.0,48.6 322.0,46.8 325.0,45.0 328.0,43.2 331.0,41.5 334.0,41.2 337.0,40.9 340.0,40.7 343.0,40.0 346.0,39.1 349.0,38.3 352.0,37.4 355.0,36.8 358.0,36.2 361.0,35.6 364.0,35.0 367.0,34.4 370.0,33.8 373.0,33.5 376.0,33.1 379.0,32.8 382.0,32.5 385.0,32.1 388.0,31.9 391.0,31.8 394.0,31.6 397.0,31.4 400.0,31.3 403.0,31.1 406.0,31.0 409.0,30.8 412.0,30.7 415.0,30.6 418.0,30.4 421.0,30.2 424.0,30.1 427.0,29.9 430.0,29.8 433.0,29.6 436.0,29.5 439.0,29.3 442.0,29.2 445.0,29.0 448.0,28.8 451.0,28.6 454.0,28.4 457.0,28.2 460.0,28.0 463.0,28.0 466.0,28.0 469.0,28.0 472.0,28.0 475.0,28.0 478.0,28.0 481.0,28.0 484.0,28.0 487.0,28.0 490.0,28.0 493.0,28.0 496.0,28.0 499.0,28.0 502.0,28.0 505.0,28.0 508.0,28.0 511.0,28.0 514.0,28.0 517.0,28.0 520.0,28.0 523.0,28.0 526.0,28.0 529.0,28.0 532.0,28.0 535.0,28.0 538.0,28.0 541.0,28.0 544.0,28.0 547.0,28.0 550.0,28.0 553.0,28.0 556.0,28.0 559.0,28.0 562.0,28.0 565.0,28.0 568.0,28.0 571.0,28.0 574.0,28.0 577.0,28.0 580.0,28.0 583.0,28.0 586.0,28.0 589.0,28.0 592.0,28.0 595.0,28.0 598.0,28.0 601.0,28.0 604.0,28.0 607.0,28.0 610.0,28.0 613.0,28.0 616.0,28.0 619.0,28.0 622.0,28.0 625.0,28.0 628.0,28.0 631.0,28.0 634.0,28.0 637.0,28.0 640.0,28.0 643.0,28.0 646.0,28.0 649.0,28.0 652.0,28.0 655.0,28.0 658.0,28.0 661.0,28.0 664.0,28.0 667.0,28.0 670.0,28.0 673.0,28.0 676.0,28.0 679.0,28.0 682.0,28.0 685.0,28.0 688.0,28.0 691.0,28.0 694.0,28.0 697.0,28.0 700.0,28.0 703.0,28.0 706.0,28.0 709.0,28.0 712.0,28.0 715.0,28.0 718.0,28.0 721.0,28.0 724.0,28.0 727.0,28.0 730.0,28.0 733.0,28.0 736.0,28.0 739.0,28.0 742.0,28.0 745.0,28.0 748.0,28.0 751.0,28.0 754.0,28.0 757.0,28.0 760.0,28.0 763.0,28.0 766.0,28.0 769.0,28.0 772.0,28.0 775.0,28.0 778.0,28.0 781.0,28.0 784.0,28.0 787.0,28.0 790.0,28.0 793.0,28.0 796.0,28.0 799.0,28.0 802.0,28.0 805.0,28.0 808.0,28.0 811.0,28.0 814.0,28.0 817.0,28.0 820.0,28.0 823.0,28.0 826.0,28.0 829.0,28.0 832.0,28.0 835.0,28.0 838.0,28.0 841.0,28.0 844.0,28.0 847.0,28.0 850.0,28.0 853.0,28.0 856.0,28.0 859.0,28.0 862.0,28.0 865.0,28.0 868.0,28.0 871.0,28.0 874.0,28.0 877.0,28.0 880.0,28.0 883.0,28.0 886.0,28.0 889.0,28.0 892.0,28.0 895.0,28.0 898.0,28.0 901.0,28.0 904.0,28.0 907.0,28.0 910.0,28.0 913.0,28.0 916.0,28.0 919.0,28.0 922.0,28.0 925.0,28.0 928.0,28.0 931.0,28.0 934.0,28.0 937.0,28.0 940.0,28.0 943.0,28.0 946.0,28.0 949.0,28.0 952.0,28.0 952.5,28.0 952.5,29.0 952.0,29.0 949.0,29.0 946.0,29.0 943.0,29.0 940.0,29.0 937.0,29.0 934.0,29.1 931.0,29.1 928.0,29.1 925.0,29.1 922.0,29.1 919.0,29.1 916.0,29.1 913.0,29.1 910.0,29.1 907.0,29.1 904.0,29.1 901.0,29.1 898.0,29.2 895.0,29.2 892.0,29.2 889.0,29.2 886.0,29.2 883.0,29.2 880.0,29.2 877.0,29.2 874.0,29.2 871.0,29.2 868.0,29.2 865.0,29.2 862.0,29.3 859.0,29.3 856.0,29.3 853.0,29.3 850.0,29.3 847.0,29.3 844.0,29.3 841.0,29.3 838.0,29.3 835.0,29.3 832.0,29.3 829.0,29.4 826.0,29.4 823.0,29.4 820.0,29.4 817.0,29.4 814.0,29.4 811.0,29.4 808.0,29.4 805.0,29.4 802.0,29.4 799.0,29.4 796.0,29.4 793.0,29.5 790.0,29.5 787.0,29.5 784.0,29.5 781.0,29.5 778.0,29.5 775.0,29.5 772.0,29.5 769.0,29.5 766.0,29.5 763.0,29.5 760.0,29.5 757.0,29.6 754.0,29.6 751.0,29.6 748.0,29.6 745.0,29.6 742.0,29.6 739.0,29.6 736.0,29.6 733.0,29.6 730.0,29.6 727.0,29.6 724.0,29.6 721.0,29.7 718.0,29.7 715.0,29.7 712.0,29.7 709.0,29.7 706.0,29.7 703.0,29.7 700.0,29.7 697.0,29.7 694.0,29.7 691.0,29.7 688.0,29.8 685.0,29.8 682.0,29.8 679.0,29.8 676.0,29.8 673.0,29.8 670.0,29.8 667.0,29.8 664.0,29.8 661.0,29.8 658.0,29.8 655.0,29.8 652.0,29.9 649.0,29.9 646.0,29.9 643.0,29.9 640.0,29.9 637.0,29.9 634.0,29.9 631.0,29.9 628.0,29.9 625.0,29.9 622.0,29.9 619.0,29.9 616.0,30.0 613.0,30.0 610.0,30.0 607.0,30.0 604.0,30.0 601.0,30.0 598.0,30.0 595.0,30.1 592.0,30.1 589.0,30.1 586.0,30.2 583.0,30.2 580.0,30.2 577.0,30.3 574.0,30.3 571.0,30.4 568.0,30.4 565.0,30.4 562.0,30.5 559.0,30.6 556.0,31.0 553.0,31.4 550.0,31.8 547.0,32.1 544.0,32.5 541.0,32.9 538.0,33.2 535.0,33.6 532.0,34.0 529.0,34.4 526.0,34.8 523.0,35.1 520.0,35.5 517.0,35.8 514.0,36.0 511.0,36.3 508.0,36.5 505.0,36.8 502.0,37.0 499.0,37.3 496.0,37.6 493.0,38.0 490.0,38.5 487.0,38.9 484.0,39.4 481.0,39.8 478.0,40.3 475.0,40.7 472.0,41.2 469.0,41.6 466.0,42.1 463.0,47.5 460.0,53.0 457.0,56.2 454.0,57.5 451.0,57.9 448.0,58.3 445.0,58.8 442.0,59.2 439.0,60.4 436.0,63.9 433.0,71.4 430.0,74.6 427.0,74.5 424.0,74.4 421.0,74.2 418.0,75.0 415.0,76.2 412.0,77.4 409.0,78.7 406.0,79.9 403.0,81.1 400.0,82.3 397.0,83.6 394.0,85.0 391.0,86.3 388.0,87.7 385.0,89.0 382.0,90.3 379.0,91.7 376.0,93.0 373.0,94.5 370.0,96.0 367.0,97.5 364.0,98.8 361.0,99.4 358.0,99.9 355.0,100.5 352.0,101.1 349.0,101.6 346.0,102.2 343.0,102.7 340.0,103.3 337.0,104.0 334.0,104.8 331.0,105.5 328.0,106.3 325.0,107.0 322.0,108.1 319.0,109.1 316.0,110.2 313.0,111.2 310.0,112.3 307.0,114.0 304.0,117.0 301.0,122.4 298.0,129.0 295.0,131.5 292.0,134.0 289.0,136.5 286.0,139.0 283.0,140.0 280.0,141.0 277.0,141.8 274.0,142.6 271.0,150.0 268.0,159.5 265.0,166.4 262.0,167.3 259.0,168.3 256.0,169.2 253.0,170.1 250.0,171.1 247.0,172.4 244.0,173.9 241.0,175.4 238.0,176.9 235.0,178.4 232.0,179.9 229.0,181.2 226.0,182.3 223.0,183.5 220.0,184.7 217.0,185.9 214.0,187.1 211.0,188.3 208.0,189.5 205.0,190.7 202.0,191.9 199.0,193.7 196.0,196.8 193.0,199.9 190.0,203.0 187.0,206.4 184.0,209.8 181.0,213.2 178.0,216.6 175.0,220.0 172.0,225.4 169.0,230.8 166.0,237.1 163.0,246.1 160.0,255.2 159.6,256.4 158.6,259.4 157.6,265.9 156.6,273.2 155.6,280.5 154.6,287.8 153.6,295.1 152.6,302.4 151.6,309.8 150.6,317.1 149.6,325.8 148.6,335.4 147.6,345.1 146.6,354.7 145.6,364.3 144.6,374.0 143.6,383.6 142.6,393.3 141.6,405.8 140.6,425.1 139.6,444.3 138.6,463.6 137.6,482.9 136.6,502.2 135.6,521.4 134.6,540.7 133.6,560.0" fill="#808080" fill-opacity="0.2" stroke="#808080" stroke-opacity="0.15" stroke-width="1.6"/>
<polyline points="133.6,560.0 134.5,500.0 135.9,460.0 138.6,350.0 141.6,242.0 150.2,242.0 157.8,200.1 166.0,200.1 175.1,190.1 182.4,190.1 191.5,175.5 199.7,167.3 207.9,165.5 216.0,158.2 223.0,157.7 233.1,140.6 240.6,140.1 249.4,130.0 256.9,126.0 265.7,124.3 274.5,110.0 282.0,108.4 290.9,95.4 298.4,94.1 307.2,85.3 316.0,79.8 323.5,78.3 332.3,72.0 341.1,71.5 348.6,67.7 358.7,67.2 373.0,62.0 391.4,56.8 399.2,55.5 407.0,51.6 420.0,51.9 430.6,48.7 439.1,44.4 447.6,41.8 456.1,42.8 463.6,38.1 473.1,37.0 496.5,33.8 537.7,33.8 553.4,29.4 569.0,28.0 952.5,28.0" fill="none" stroke="#0000ff" stroke-opacity="0.8" stroke-width="5.3" stroke-linejoin="round" stroke-linecap="square"/>
<polyline points="133.8,558.0 135.3,532.0" fill="none" stroke="#a52a2a" stroke-opacity="0.8" stroke-width="5.3" stroke-linecap="butt" stroke-linejoin="round"/>
<polyline points="138.8,478.0 140.5,452.0" fill="none" stroke="#a52a2a" stroke-opacity="0.8" stroke-width="5.3" stroke-linecap="butt" stroke-linejoin="round"/>
<polyline points="145.8,398.0 148.7,372.4" fill="none" stroke="#a52a2a" stroke-opacity="0.8" stroke-width="5.3" stroke-linecap="butt" stroke-linejoin="round"/>
<polyline points="158.2,316.5 169.1,295.6" fill="none" stroke="#a52a2a" stroke-opacity="0.8" stroke-width="5.3" stroke-linecap="butt" stroke-linejoin="round"/>
<polyline points="190.1,244.6 208.3,238.2 210.1,233.7" fill="none" stroke="#a52a2a" stroke-opacity="0.8" stroke-width="5.3" stroke-linecap="butt" stroke-linejoin="round"/>
<polyline points="234.2,188.9 256.6,177.2" fill="none" stroke="#a52a2a" stroke-opacity="0.8" stroke-width="5.3" stroke-linecap="butt" stroke-linejoin="round"/>
<polyline points="301.2,151.7 310.7,146.6 324.5,142.5" fill="none" stroke="#a52a2a" stroke-opacity="0.8" stroke-width="5.3" stroke-linecap="butt" stroke-linejoin="round"/>
<polyline points="369.6,119.3 381.2,114.2 394.0,111.9" fill="none" stroke="#a52a2a" stroke-opacity="0.8" stroke-width="5.3" stroke-linecap="butt" stroke-linejoin="round"/>
<polyline points="445.0,95.9 457.7,92.7 468.3,87.4" fill="none" stroke="#a52a2a" stroke-opacity="0.8" stroke-width="5.3" stroke-linecap="butt" stroke-linejoin="round"/>
<polyline points="521.7,75.1 530.9,70.9 546.8,69.7" fill="none" stroke="#a52a2a" stroke-opacity="0.8" stroke-width="5.3" stroke-linecap="butt" stroke-linejoin="round"/>
<polyline points="600.2,58.4 626.1,55.9" fill="none" stroke="#a52a2a" stroke-opacity="0.8" stroke-width="5.3" stroke-linecap="butt" stroke-linejoin="round"/>
<polyline points="680.7,49.9 705.4,48.2" fill="none" stroke="#a52a2a" stroke-opacity="0.8" stroke-width="5.3" stroke-linecap="butt" stroke-linejoin="round"/>
<polyline points="760.1,40.5 786.6,39.6" fill="none" stroke="#a52a2a" stroke-opacity="0.8" stroke-width="5.3" stroke-linecap="butt" stroke-linejoin="round"/>
<polyline points="840.6,34.9 866.8,33.1" fill="none" stroke="#a52a2a" stroke-opacity="0.8" stroke-width="5.3" stroke-linecap="butt" stroke-linejoin="round"/>
<polyline points="920.5,29.6 946.5,28.3" fill="none" stroke="#a52a2a" stroke-opacity="0.8" stroke-width="5.3" stroke-linecap="butt" stroke-linejoin="round"/>
<polyline points="133.6,560.0 136.5,520.0 138.7,491.0 140.0,463.0 141.0,446.0 141.0,439.5 149.7,437.5 152.7,423.7 152.7,406.0 156.6,396.0 156.6,379.3 167.4,374.4 167.4,355.6 170.4,345.8 171.9,327.5 173.7,317.5 175.5,300.1 184.6,297.4 191.9,280.1 194.6,271.0 201.0,262.8 209.2,261.9 211.0,251.0 215.6,240.0 222.9,240.0 227.4,232.8 232.9,223.6 241.1,222.7 249.1,217.5 268.2,215.4 272.5,205.9 281.0,206.9 288.4,199.5 296.9,195.2 312.9,186.7 323.5,185.7 329.9,175.1 335.2,174.0 345.8,174.0 363.8,169.7 371.7,162.9 385.5,153.3 398.2,149.0 409.9,142.7 421.6,141.6 432.2,131.0 450.3,125.7 462.0,123.6 470.5,119.3 487.5,111.9 497.0,107.6 505.0,104.3 515.0,104.3 522.6,98.4 540.1,91.8 547.6,84.2 565.1,79.2 580.2,75.9 591.8,70.9 601.0,66.7 616.9,60.9 628.0,59.4 640.5,60.2 655.9,58.4 664.4,56.7 673.0,51.6 683.2,52.5 702.0,52.5 711.4,51.6 729.3,49.0 739.6,48.2 756.7,46.5 767.8,44.8 786.6,42.2 807.1,41.2 824.3,39.4 841.5,37.6 852.4,37.6 870.4,35.8 880.4,33.1 899.4,32.2 910.2,29.5 924.7,29.5 934.0,28.5 952.5,28.0" fill="none" stroke="#daa520" stroke-opacity="0.8" stroke-width="5.3" stroke-dasharray="19.9 8.8" stroke-dashoffset="3.5" stroke-linejoin="round"/>
<polyline points="133.6,560.0 136.0,544.0" fill="none" stroke="#00ffff" stroke-opacity="0.8" stroke-width="5.3" stroke-linecap="butt" stroke-linejoin="round"/>
<polyline points="157.0,378.3 157.0,364.5" fill="none" stroke="#00ffff" stroke-opacity="0.8" stroke-width="5.3" stroke-linecap="butt" stroke-linejoin="round"/>
<polyline points="242.0,238.2 253.0,232.8" fill="none" stroke="#00ffff" stroke-opacity="0.8" stroke-width="5.3" stroke-linecap="butt" stroke-linejoin="round"/>
<polyline points="386.6,148.0 400.4,146.9" fill="none" stroke="#00ffff" stroke-opacity="0.8" stroke-width="5.3" stroke-linecap="butt" stroke-linejoin="round"/>
<polyline points="552.6,79.2 564.3,71.7" fill="none" stroke="#00ffff" stroke-opacity="0.8" stroke-width="5.3" stroke-linecap="butt" stroke-linejoin="round"/>
<polyline points="733.6,46.5 749.0,45.3" fill="none" stroke="#00ffff" stroke-opacity="0.8" stroke-width="5.3" stroke-linecap="butt" stroke-linejoin="round"/>
<polyline points="921.1,28.6 933.8,27.7" fill="none" stroke="#00ffff" stroke-opacity="0.8" stroke-width="5.3" stroke-linecap="butt" stroke-linejoin="round"/>
<polyline points="149.7,497.6 150.7,492.4" fill="none" stroke="#00ffff" stroke-opacity="0.8" stroke-width="5.3" stroke-linecap="butt" stroke-linejoin="round"/>
<polyline points="152.9,438.2 153.5,432.8" fill="none" stroke="#00ffff" stroke-opacity="0.8" stroke-width="5.3" stroke-linecap="butt" stroke-linejoin="round"/>
<polyline points="178.0,322.6 180.4,317.8" fill="none" stroke="#00ffff" stroke-opacity="0.8" stroke-width="5.3" stroke-linecap="butt" stroke-linejoin="round"/>
<polyline points="205.1,276.9 207.9,272.3" fill="none" stroke="#00ffff" stroke-opacity="0.8" stroke-width="5.3" stroke-linecap="butt" stroke-linejoin="round"/>
<polyline points="288.2,198.8 292.8,196.0" fill="none" stroke="#00ffff" stroke-opacity="0.8" stroke-width="5.3" stroke-linecap="butt" stroke-linejoin="round"/>
<polyline points="330.7,168.0 335.3,165.2" fill="none" stroke="#00ffff" stroke-opacity="0.8" stroke-width="5.3" stroke-linecap="butt" stroke-linejoin="round"/>
<polyline points="444.7,119.4 449.5,117.0" fill="none" stroke="#00ffff" stroke-opacity="0.8" stroke-width="5.3" stroke-linecap="butt" stroke-linejoin="round"/>
<polyline points="494.5,94.8 499.5,92.8" fill="none" stroke="#00ffff" stroke-opacity="0.8" stroke-width="5.3" stroke-linecap="butt" stroke-linejoin="round"/>
<polyline points="617.6,63.0 622.8,62.0" fill="none" stroke="#00ffff" stroke-opacity="0.8" stroke-width="5.3" stroke-linecap="butt" stroke-linejoin="round"/>
<polyline points="675.4,56.2 680.8,55.6" fill="none" stroke="#00ffff" stroke-opacity="0.8" stroke-width="5.3" stroke-linecap="butt" stroke-linejoin="round"/>
<polyline points="801.7,40.6 807.1,40.0" fill="none" stroke="#00ffff" stroke-opacity="0.8" stroke-width="5.3" stroke-linecap="butt" stroke-linejoin="round"/>
<polyline points="859.6,33.4 865.0,32.8" fill="none" stroke="#00ffff" stroke-opacity="0.8" stroke-width="5.3" stroke-linecap="butt" stroke-linejoin="round"/>
<polyline points="133.6,560.0 135.5,544.0" fill="none" stroke="#ff00ff" stroke-opacity="0.8" stroke-width="5.3" stroke-linecap="butt" stroke-linejoin="round"/>
<polyline points="152.6,488.3 154.4,473.2" fill="none" stroke="#ff00ff" stroke-opacity="0.8" stroke-width="5.3" stroke-linecap="butt" stroke-linejoin="round"/>
<polyline points="169.0,421.7 171.8,407.0" fill="none" stroke="#ff00ff" stroke-opacity="0.8" stroke-width="5.3" stroke-linecap="butt" stroke-linejoin="round"/>
<polyline points="189.1,354.7 192.1,339.9" fill="none" stroke="#ff00ff" stroke-opacity="0.8" stroke-width="5.3" stroke-linecap="butt" stroke-linejoin="round"/>
<polyline points="212.9,289.2 216.5,276.5" fill="none" stroke="#ff00ff" stroke-opacity="0.8" stroke-width="5.3" stroke-linecap="butt" stroke-linejoin="round"/>
<polyline points="259.5,246.0 265.0,240.0 271.4,238.8" fill="none" stroke="#ff00ff" stroke-opacity="0.8" stroke-width="5.3" stroke-linecap="butt" stroke-linejoin="round"/>
<polyline points="311.8,200.5 325.6,196.9" fill="none" stroke="#ff00ff" stroke-opacity="0.8" stroke-width="5.3" stroke-linecap="butt" stroke-linejoin="round"/>
<polyline points="372.7,165.0 385.5,158.6" fill="none" stroke="#ff00ff" stroke-opacity="0.8" stroke-width="5.3" stroke-linecap="butt" stroke-linejoin="round"/>
<polyline points="435.4,132.0 447.1,125.7" fill="none" stroke="#ff00ff" stroke-opacity="0.8" stroke-width="5.3" stroke-linecap="butt" stroke-linejoin="round"/>
<polyline points="500.0,99.3 515.0,98.8" fill="none" stroke="#ff00ff" stroke-opacity="0.8" stroke-width="5.3" stroke-linecap="butt" stroke-linejoin="round"/>
<polyline points="569.3,77.6 583.5,75.9" fill="none" stroke="#ff00ff" stroke-opacity="0.8" stroke-width="5.3" stroke-linecap="butt" stroke-linejoin="round"/>
<polyline points="640.5,60.2 655.0,55.9" fill="none" stroke="#ff00ff" stroke-opacity="0.8" stroke-width="5.3" stroke-linecap="butt" stroke-linejoin="round"/>
<polyline points="714.0,47.3 728.5,47.3" fill="none" stroke="#ff00ff" stroke-opacity="0.8" stroke-width="5.3" stroke-linecap="butt" stroke-linejoin="round"/>
<polyline points="789.0,41.8 803.5,42.1" fill="none" stroke="#ff00ff" stroke-opacity="0.8" stroke-width="5.3" stroke-linecap="butt" stroke-linejoin="round"/>
<polyline points="864.1,38.5 878.6,36.7" fill="none" stroke="#ff00ff" stroke-opacity="0.8" stroke-width="5.3" stroke-linecap="butt" stroke-linejoin="round"/>
<polyline points="939.2,30.4 950.0,27.7" fill="none" stroke="#ff00ff" stroke-opacity="0.8" stroke-width="5.3" stroke-linecap="butt" stroke-linejoin="round"/>
<polyline points="142.0,517.2 143.6,512.0" fill="none" stroke="#ff00ff" stroke-opacity="0.8" stroke-width="5.3" stroke-linecap="butt" stroke-linejoin="round"/>
<polyline points="166.1,454.0 167.1,448.8" fill="none" stroke="#ff00ff" stroke-opacity="0.8" stroke-width="5.3" stroke-linecap="butt" stroke-linejoin="round"/>
<polyline points="173.6,378.0 175.2,372.8" fill="none" stroke="#ff00ff" stroke-opacity="0.8" stroke-width="5.3" stroke-linecap="butt" stroke-linejoin="round"/>
<polyline points="197.1,311.7 199.5,306.9" fill="none" stroke="#ff00ff" stroke-opacity="0.8" stroke-width="5.3" stroke-linecap="butt" stroke-linejoin="round"/>
<polyline points="228.8,254.2 233.2,251.2" fill="none" stroke="#ff00ff" stroke-opacity="0.8" stroke-width="5.3" stroke-linecap="butt" stroke-linejoin="round"/>
<polyline points="287.4,219.2 291.6,215.8" fill="none" stroke="#ff00ff" stroke-opacity="0.8" stroke-width="5.3" stroke-linecap="butt" stroke-linejoin="round"/>
<polyline points="347.6,183.7 352.4,181.3" fill="none" stroke="#ff00ff" stroke-opacity="0.8" stroke-width="5.3" stroke-linecap="butt" stroke-linejoin="round"/>
<polyline points="404.3,141.7 409.1,139.3" fill="none" stroke="#ff00ff" stroke-opacity="0.8" stroke-width="5.3" stroke-linecap="butt" stroke-linejoin="round"/>
<polyline points="472.2,113.9 477.2,111.9" fill="none" stroke="#ff00ff" stroke-opacity="0.8" stroke-width="5.3" stroke-linecap="butt" stroke-linejoin="round"/>
<polyline points="539.2,88.4 544.4,86.8" fill="none" stroke="#ff00ff" stroke-opacity="0.8" stroke-width="5.3" stroke-linecap="butt" stroke-linejoin="round"/>
<polyline points="610.1,68.9 615.3,67.9" fill="none" stroke="#ff00ff" stroke-opacity="0.8" stroke-width="5.3" stroke-linecap="butt" stroke-linejoin="round"/>
<polyline points="680.9,48.1 686.3,47.5" fill="none" stroke="#ff00ff" stroke-opacity="0.8" stroke-width="5.3" stroke-linecap="butt" stroke-linejoin="round"/>
<polyline points="756.0,45.1 761.4,44.5" fill="none" stroke="#ff00ff" stroke-opacity="0.8" stroke-width="5.3" stroke-linecap="butt" stroke-linejoin="round"/>
<polyline points="830.7,41.3 836.1,41.1" fill="none" stroke="#ff00ff" stroke-opacity="0.8" stroke-width="5.3" stroke-linecap="butt" stroke-linejoin="round"/>
<polyline points="905.3,34.3 910.7,33.7" fill="none" stroke="#ff00ff" stroke-opacity="0.8" stroke-width="5.3" stroke-linecap="butt" stroke-linejoin="round"/>
<polyline points="134.4,544.3 134.8,538.9" fill="none" stroke="#ff69b4" stroke-opacity="0.8" stroke-width="5.3" stroke-linecap="butt" stroke-linejoin="round"/>
<polyline points="135.7,530.4 136.1,525.0" fill="none" stroke="#ff69b4" stroke-opacity="0.8" stroke-width="5.3" stroke-linecap="butt" stroke-linejoin="round"/>
<polyline points="136.5,516.4 136.9,511.0" fill="none" stroke="#ff69b4" stroke-opacity="0.8" stroke-width="5.3" stroke-linecap="butt" stroke-linejoin="round"/>
<polyline points="138.2,501.0 138.8,495.6" fill="none" stroke="#ff69b4" stroke-opacity="0.8" stroke-width="5.3" stroke-linecap="butt" stroke-linejoin="round"/>
<polyline points="139.2,488.2 139.6,482.8" fill="none" stroke="#ff69b4" stroke-opacity="0.8" stroke-width="5.3" stroke-linecap="butt" stroke-linejoin="round"/>
<polyline points="139.7,473.8 141.9,469.0" fill="none" stroke="#ff69b4" stroke-opacity="0.8" stroke-width="5.3" stroke-linecap="butt" stroke-linejoin="round"/>
<polyline points="148.1,466.5 150.7,461.7" fill="none" stroke="#ff69b4" stroke-opacity="0.8" stroke-width="5.3" stroke-linecap="butt" stroke-linejoin="round"/>
<polyline points="151.6,454.1 152.6,448.7" fill="none" stroke="#ff69b4" stroke-opacity="0.8" stroke-width="5.3" stroke-linecap="butt" stroke-linejoin="round"/>
<polyline points="153.8,440.2 154.6,434.8" fill="none" stroke="#ff69b4" stroke-opacity="0.8" stroke-width="5.3" stroke-linecap="butt" stroke-linejoin="round"/>
<polyline points="155.5,425.2 157.7,420.2" fill="none" stroke="#ff69b4" stroke-opacity="0.8" stroke-width="5.3" stroke-linecap="butt" stroke-linejoin="round"/>
<polyline points="163.2,417.2 165.8,412.4" fill="none" stroke="#ff69b4" stroke-opacity="0.8" stroke-width="5.3" stroke-linecap="butt" stroke-linejoin="round"/>
<polyline points="166.9,405.7 167.9,400.3" fill="none" stroke="#ff69b4" stroke-opacity="0.8" stroke-width="5.3" stroke-linecap="butt" stroke-linejoin="round"/>
<polyline points="169.1,391.5 169.7,386.1" fill="none" stroke="#ff69b4" stroke-opacity="0.8" stroke-width="5.3" stroke-linecap="butt" stroke-linejoin="round"/>
<polyline points="170.1,377.1 170.7,371.7" fill="none" stroke="#ff69b4" stroke-opacity="0.8" stroke-width="5.3" stroke-linecap="butt" stroke-linejoin="round"/>
<polyline points="172.0,362.7 172.8,357.3" fill="none" stroke="#ff69b4" stroke-opacity="0.8" stroke-width="5.3" stroke-linecap="butt" stroke-linejoin="round"/>
<polyline points="173.1,348.2 175.7,343.4" fill="none" stroke="#ff69b4" stroke-opacity="0.8" stroke-width="5.3" stroke-linecap="butt" stroke-linejoin="round"/>
<polyline points="182.4,340.9 186.0,336.9" fill="none" stroke="#ff69b4" stroke-opacity="0.8" stroke-width="5.3" stroke-linecap="butt" stroke-linejoin="round"/>
<polyline points="189.7,329.9 192.3,325.1" fill="none" stroke="#ff69b4" stroke-opacity="0.8" stroke-width="5.3" stroke-linecap="butt" stroke-linejoin="round"/>
<polyline points="195.6,316.8 199.2,312.6" fill="none" stroke="#ff69b4" stroke-opacity="0.8" stroke-width="5.3" stroke-linecap="butt" stroke-linejoin="round"/>
<polyline points="205.7,310.4 209.1,306.2" fill="none" stroke="#ff69b4" stroke-opacity="0.8" stroke-width="5.3" stroke-linecap="butt" stroke-linejoin="round"/>
<polyline points="212.0,296.7 215.6,292.7" fill="none" stroke="#ff69b4" stroke-opacity="0.8" stroke-width="5.3" stroke-linecap="butt" stroke-linejoin="round"/>
<polyline points="223.1,290.4 226.3,286.2" fill="none" stroke="#ff69b4" stroke-opacity="0.8" stroke-width="5.3" stroke-linecap="butt" stroke-linejoin="round"/>
<polyline points="227.9,276.9 230.7,272.3" fill="none" stroke="#ff69b4" stroke-opacity="0.8" stroke-width="5.3" stroke-linecap="butt" stroke-linejoin="round"/>
<polyline points="235.1,267.7 239.9,265.1" fill="none" stroke="#ff69b4" stroke-opacity="0.8" stroke-width="5.3" stroke-linecap="butt" stroke-linejoin="round"/>
<polyline points="248.5,263.3 253.7,262.3" fill="none" stroke="#ff69b4" stroke-opacity="0.8" stroke-width="5.3" stroke-linecap="butt" stroke-linejoin="round"/>
<polyline points="262.9,262.2 267.3,259.2" fill="none" stroke="#ff69b4" stroke-opacity="0.8" stroke-width="5.3" stroke-linecap="butt" stroke-linejoin="round"/>
<polyline points="270.5,250.2 274.5,246.6" fill="none" stroke="#ff69b4" stroke-opacity="0.8" stroke-width="5.3" stroke-linecap="butt" stroke-linejoin="round"/>
<polyline points="282.0,245.1 286.4,241.9" fill="none" stroke="#ff69b4" stroke-opacity="0.8" stroke-width="5.3" stroke-linecap="butt" stroke-linejoin="round"/>
<polyline points="290.6,235.2 294.8,231.8" fill="none" stroke="#ff69b4" stroke-opacity="0.8" stroke-width="5.3" stroke-linecap="butt" stroke-linejoin="round"/>
<polyline points="302.1,228.6 306.7,225.6" fill="none" stroke="#ff69b4" stroke-opacity="0.8" stroke-width="5.3" stroke-linecap="butt" stroke-linejoin="round"/>
<polyline points="312.7,220.4 317.3,217.6" fill="none" stroke="#ff69b4" stroke-opacity="0.8" stroke-width="5.3" stroke-linecap="butt" stroke-linejoin="round"/>
<polyline points="324.4,214.7 329.0,211.9" fill="none" stroke="#ff69b4" stroke-opacity="0.8" stroke-width="5.3" stroke-linecap="butt" stroke-linejoin="round"/>
<polyline points="335.1,207.4 339.5,204.4" fill="none" stroke="#ff69b4" stroke-opacity="0.8" stroke-width="5.3" stroke-linecap="butt" stroke-linejoin="round"/>
<polyline points="345.4,200.0 350.4,198.2" fill="none" stroke="#ff69b4" stroke-opacity="0.8" stroke-width="5.3" stroke-linecap="butt" stroke-linejoin="round"/>
<polyline points="360.6,198.1 365.4,195.7" fill="none" stroke="#ff69b4" stroke-opacity="0.8" stroke-width="5.3" stroke-linecap="butt" stroke-linejoin="round"/>
<polyline points="371.0,189.4 374.4,185.2" fill="none" stroke="#ff69b4" stroke-opacity="0.8" stroke-width="5.3" stroke-linecap="butt" stroke-linejoin="round"/>
<polyline points="378.7,177.8 381.7,173.4" fill="none" stroke="#ff69b4" stroke-opacity="0.8" stroke-width="5.3" stroke-linecap="butt" stroke-linejoin="round"/>
<polyline points="386.7,165.7 390.7,162.1" fill="none" stroke="#ff69b4" stroke-opacity="0.8" stroke-width="5.3" stroke-linecap="butt" stroke-linejoin="round"/>
<polyline points="398.3,160.0 402.5,156.4" fill="none" stroke="#ff69b4" stroke-opacity="0.8" stroke-width="5.3" stroke-linecap="butt" stroke-linejoin="round"/>
<polyline points="405.4,148.8 410.2,146.4" fill="none" stroke="#ff69b4" stroke-opacity="0.8" stroke-width="5.3" stroke-linecap="butt" stroke-linejoin="round"/>
<polyline points="420.0,148.1 425.4,147.1" fill="none" stroke="#ff69b4" stroke-opacity="0.8" stroke-width="5.3" stroke-linecap="butt" stroke-linejoin="round"/>
<polyline points="433.5,143.5 438.7,141.9" fill="none" stroke="#ff69b4" stroke-opacity="0.8" stroke-width="5.3" stroke-linecap="butt" stroke-linejoin="round"/>
<polyline points="446.6,139.8 451.8,138.4" fill="none" stroke="#ff69b4" stroke-opacity="0.8" stroke-width="5.3" stroke-linecap="butt" stroke-linejoin="round"/>
<polyline points="460.1,136.2 465.1,134.2" fill="none" stroke="#ff69b4" stroke-opacity="0.8" stroke-width="5.3" stroke-linecap="butt" stroke-linejoin="round"/>
<polyline points="472.4,130.6 477.0,128.0" fill="none" stroke="#ff69b4" stroke-opacity="0.8" stroke-width="5.3" stroke-linecap="butt" stroke-linejoin="round"/>
<polyline points="484.3,122.8 488.9,120.0" fill="none" stroke="#ff69b4" stroke-opacity="0.8" stroke-width="5.3" stroke-linecap="butt" stroke-linejoin="round"/>
<polyline points="496.0,115.9 501.2,114.3" fill="none" stroke="#ff69b4" stroke-opacity="0.8" stroke-width="5.3" stroke-linecap="butt" stroke-linejoin="round"/>
<polyline points="510.8,114.4 516.0,112.6" fill="none" stroke="#ff69b4" stroke-opacity="0.8" stroke-width="5.3" stroke-linecap="butt" stroke-linejoin="round"/>
<polyline points="522.9,107.5 527.3,104.3" fill="none" stroke="#ff69b4" stroke-opacity="0.8" stroke-width="5.3" stroke-linecap="butt" stroke-linejoin="round"/>
<polyline points="533.7,99.2 538.1,96.0" fill="none" stroke="#ff69b4" stroke-opacity="0.8" stroke-width="5.3" stroke-linecap="butt" stroke-linejoin="round"/>
<polyline points="545.2,90.4 550.0,88.0" fill="none" stroke="#ff69b4" stroke-opacity="0.8" stroke-width="5.3" stroke-linecap="butt" stroke-linejoin="round"/>
<polyline points="558.4,85.2 563.6,84.2" fill="none" stroke="#ff69b4" stroke-opacity="0.8" stroke-width="5.3" stroke-linecap="butt" stroke-linejoin="round"/>
<polyline points="572.4,84.1 577.8,83.3" fill="none" stroke="#ff69b4" stroke-opacity="0.8" stroke-width="5.3" stroke-linecap="butt" stroke-linejoin="round"/>
<polyline points="586.2,81.2 591.4,79.6" fill="none" stroke="#ff69b4" stroke-opacity="0.8" stroke-width="5.3" stroke-linecap="butt" stroke-linejoin="round"/>
<polyline points="599.3,75.8 604.5,74.4" fill="none" stroke="#ff69b4" stroke-opacity="0.8" stroke-width="5.3" stroke-linecap="butt" stroke-linejoin="round"/>
<polyline points="613.3,73.8 618.7,73.0" fill="none" stroke="#ff69b4" stroke-opacity="0.8" stroke-width="5.3" stroke-linecap="butt" stroke-linejoin="round"/>
<polyline points="626.3,71.1 631.7,70.3" fill="none" stroke="#ff69b4" stroke-opacity="0.8" stroke-width="5.3" stroke-linecap="butt" stroke-linejoin="round"/>
<polyline points="641.7,70.2 646.9,68.8" fill="none" stroke="#ff69b4" stroke-opacity="0.8" stroke-width="5.3" stroke-linecap="butt" stroke-linejoin="round"/>
<polyline points="653.8,64.2 659.0,63.0" fill="none" stroke="#ff69b4" stroke-opacity="0.8" stroke-width="5.3" stroke-linecap="butt" stroke-linejoin="round"/>
<polyline points="668.2,64.0 673.6,63.2" fill="none" stroke="#ff69b4" stroke-opacity="0.8" stroke-width="5.3" stroke-linecap="butt" stroke-linejoin="round"/>
<polyline points="682.0,59.8 687.2,58.8" fill="none" stroke="#ff69b4" stroke-opacity="0.8" stroke-width="5.3" stroke-linecap="butt" stroke-linejoin="round"/>
<polyline points="695.6,58.0 701.0,57.8" fill="none" stroke="#ff69b4" stroke-opacity="0.8" stroke-width="5.3" stroke-linecap="butt" stroke-linejoin="round"/>
<polyline points="709.6,58.1 715.0,57.7" fill="none" stroke="#ff69b4" stroke-opacity="0.8" stroke-width="5.3" stroke-linecap="butt" stroke-linejoin="round"/>
<polyline points="724.1,56.2 729.5,55.6" fill="none" stroke="#ff69b4" stroke-opacity="0.8" stroke-width="5.3" stroke-linecap="butt" stroke-linejoin="round"/>
<polyline points="738.3,55.0 743.7,54.4" fill="none" stroke="#ff69b4" stroke-opacity="0.8" stroke-width="5.3" stroke-linecap="butt" stroke-linejoin="round"/>
<polyline points="752.3,53.4 757.7,52.6" fill="none" stroke="#ff69b4" stroke-opacity="0.8" stroke-width="5.3" stroke-linecap="butt" stroke-linejoin="round"/>
<polyline points="766.0,51.0 771.2,49.8" fill="none" stroke="#ff69b4" stroke-opacity="0.8" stroke-width="5.3" stroke-linecap="butt" stroke-linejoin="round"/>
<polyline points="779.9,47.5 785.3,46.7" fill="none" stroke="#ff69b4" stroke-opacity="0.8" stroke-width="5.3" stroke-linecap="butt" stroke-linejoin="round"/>
<polyline points="794.5,46.1 799.9,45.5" fill="none" stroke="#ff69b4" stroke-opacity="0.8" stroke-width="5.3" stroke-linecap="butt" stroke-linejoin="round"/>
<polyline points="808.4,44.1 813.8,43.7" fill="none" stroke="#ff69b4" stroke-opacity="0.8" stroke-width="5.3" stroke-linecap="butt" stroke-linejoin="round"/>
<polyline points="822.5,44.0 827.9,43.8" fill="none" stroke="#ff69b4" stroke-opacity="0.8" stroke-width="5.3" stroke-linecap="butt" stroke-linejoin="round"/>
<polyline points="837.0,43.3 842.4,42.7" fill="none" stroke="#ff69b4" stroke-opacity="0.8" stroke-width="5.3" stroke-linecap="butt" stroke-linejoin="round"/>
<polyline points="850.6,41.1 856.0,40.3" fill="none" stroke="#ff69b4" stroke-opacity="0.8" stroke-width="5.3" stroke-linecap="butt" stroke-linejoin="round"/>
<polyline points="864.1,38.8 869.5,38.2" fill="none" stroke="#ff69b4" stroke-opacity="0.8" stroke-width="5.3" stroke-linecap="butt" stroke-linejoin="round"/>
<polyline points="878.6,37.3 884.0,36.9" fill="none" stroke="#ff69b4" stroke-opacity="0.8" stroke-width="5.3" stroke-linecap="butt" stroke-linejoin="round"/>
<polyline points="893.1,36.9 898.5,36.5" fill="none" stroke="#ff69b4" stroke-opacity="0.8" stroke-width="5.3" stroke-linecap="butt" stroke-linejoin="round"/>
<polyline points="906.7,35.0 911.9,34.0" fill="none" stroke="#ff69b4" stroke-opacity="0.8" stroke-width="5.3" stroke-linecap="butt" stroke-linejoin="round"/>
<polyline points="920.2,31.7 925.6,30.9" fill="none" stroke="#ff69b4" stroke-opacity="0.8" stroke-width="5.3" stroke-linecap="butt" stroke-linejoin="round"/>
<polyline points="934.7,30.7 940.1,30.1" fill="none" stroke="#ff69b4" stroke-opacity="0.8" stroke-width="5.3" stroke-linecap="butt" stroke-linejoin="round"/>
<polyline points="133.2,558.5 135.2,553.5" fill="none" stroke="#808000" stroke-opacity="0.8" stroke-width="5.3" stroke-linecap="butt" stroke-linejoin="round"/>
<polyline points="155.3,504.3 157.3,499.3" fill="none" stroke="#808000" stroke-opacity="0.8" stroke-width="5.3" stroke-linecap="butt" stroke-linejoin="round"/>
<polyline points="176.3,448.9 178.3,443.9" fill="none" stroke="#808000" stroke-opacity="0.8" stroke-width="5.3" stroke-linecap="butt" stroke-linejoin="round"/>
<polyline points="199.4,394.6 201.4,389.6" fill="none" stroke="#808000" stroke-opacity="0.8" stroke-width="5.3" stroke-linecap="butt" stroke-linejoin="round"/>
<polyline points="221.8,339.1 224.0,334.1" fill="none" stroke="#808000" stroke-opacity="0.8" stroke-width="5.3" stroke-linecap="butt" stroke-linejoin="round"/>
<polyline points="248.0,287.1 250.6,282.3" fill="none" stroke="#808000" stroke-opacity="0.8" stroke-width="5.3" stroke-linecap="butt" stroke-linejoin="round"/>
<polyline points="277.7,235.7 280.9,231.3" fill="none" stroke="#808000" stroke-opacity="0.8" stroke-width="5.3" stroke-linecap="butt" stroke-linejoin="round"/>
<polyline points="315.6,191.2 319.4,187.4" fill="none" stroke="#808000" stroke-opacity="0.8" stroke-width="5.3" stroke-linecap="butt" stroke-linejoin="round"/>
<polyline points="359.5,155.9 363.9,152.9" fill="none" stroke="#808000" stroke-opacity="0.8" stroke-width="5.3" stroke-linecap="butt" stroke-linejoin="round"/>
<polyline points="409.1,125.3 414.1,123.1" fill="none" stroke="#808000" stroke-opacity="0.8" stroke-width="5.3" stroke-linecap="butt" stroke-linejoin="round"/>
<polyline points="464.7,107.2 469.9,106.0" fill="none" stroke="#808000" stroke-opacity="0.8" stroke-width="5.3" stroke-linecap="butt" stroke-linejoin="round"/>
<polyline points="523.2,97.2 528.6,96.4" fill="none" stroke="#808000" stroke-opacity="0.8" stroke-width="5.3" stroke-linecap="butt" stroke-linejoin="round"/>
<polyline points="581.6,87.6 587.0,86.8" fill="none" stroke="#808000" stroke-opacity="0.8" stroke-width="5.3" stroke-linecap="butt" stroke-linejoin="round"/>
<polyline points="640.4,78.5 645.8,77.7" fill="none" stroke="#808000" stroke-opacity="0.8" stroke-width="5.3" stroke-linecap="butt" stroke-linejoin="round"/>
<polyline points="698.5,69.1 703.9,68.3" fill="none" stroke="#808000" stroke-opacity="0.8" stroke-width="5.3" stroke-linecap="butt" stroke-linejoin="round"/>
<polyline points="757.1,59.4 762.5,58.6" fill="none" stroke="#808000" stroke-opacity="0.8" stroke-width="5.3" stroke-linecap="butt" stroke-linejoin="round"/>
<polyline points="815.3,49.8 820.7,49.0" fill="none" stroke="#808000" stroke-opacity="0.8" stroke-width="5.3" stroke-linecap="butt" stroke-linejoin="round"/>
<polyline points="874.1,40.7 879.5,39.9" fill="none" stroke="#808000" stroke-opacity="0.8" stroke-width="5.3" stroke-linecap="butt" stroke-linejoin="round"/>
<polyline points="932.0,31.3 937.4,30.5" fill="none" stroke="#808000" stroke-opacity="0.8" stroke-width="5.3" stroke-linecap="butt" stroke-linejoin="round"/>
<line x1="133.6" y1="560.0" x2="952.5" y2="28.0" stroke="#7a7a7a" stroke-width="4.4" stroke-linecap="square"/>
<rect x="92.7" y="1.3" width="900.50" height="584.70" fill="none" stroke="#000" stroke-width="2.2"/>
<line x1="133.60" y1="586.0" x2="133.60" y2="595.5" stroke="#000" stroke-width="2.2"/>
<line x1="92.7" y1="560.00" x2="83.2" y2="560.00" stroke="#000" stroke-width="2.2"/>
<line x1="297.38" y1="586.0" x2="297.38" y2="595.5" stroke="#000" stroke-width="2.2"/>
<line x1="92.7" y1="453.60" x2="83.2" y2="453.60" stroke="#000" stroke-width="2.2"/>
<line x1="461.16" y1="586.0" x2="461.16" y2="595.5" stroke="#000" stroke-width="2.2"/>
<line x1="92.7" y1="347.20" x2="83.2" y2="347.20" stroke="#000" stroke-width="2.2"/>
<line x1="624.94" y1="586.0" x2="624.94" y2="595.5" stroke="#000" stroke-width="2.2"/>
<line x1="92.7" y1="240.80" x2="83.2" y2="240.80" stroke="#000" stroke-width="2.2"/>
<line x1="788.72" y1="586.0" x2="788.72" y2="595.5" stroke="#000" stroke-width="2.2"/>
<line x1="92.7" y1="134.40" x2="83.2" y2="134.40" stroke="#000" stroke-width="2.2"/>
<line x1="952.50" y1="586.0" x2="952.50" y2="595.5" stroke="#000" stroke-width="2.2"/>
<line x1="92.7" y1="28.00" x2="83.2" y2="28.00" stroke="#000" stroke-width="2.2"/>
<text transform="matrix(1.090,0,0,1,114.36,623.90)" font-size="25.41">0</text><text transform="matrix(1.090,0,0,1,129.75,623.90)" font-size="25.41">.</text><text transform="matrix(1.090,0,0,1,137.45,623.90)" font-size="25.41">0</text>
<text transform="matrix(1.090,0,0,1,35.51,569.80)" font-size="25.41">0</text><text transform="matrix(1.090,0,0,1,50.91,569.80)" font-size="25.41">.</text><text transform="matrix(1.090,0,0,1,58.60,569.80)" font-size="25.41">0</text>
<text transform="matrix(1.090,0,0,1,278.14,623.90)" font-size="25.41">0</text><text transform="matrix(1.090,0,0,1,293.53,623.90)" font-size="25.41">.</text><text transform="matrix(1.090,0,0,1,301.23,623.90)" font-size="25.41">2</text>
<text transform="matrix(1.090,0,0,1,35.51,463.40)" font-size="25.41">0</text><text transform="matrix(1.090,0,0,1,50.91,463.40)" font-size="25.41">.</text><text transform="matrix(1.090,0,0,1,58.60,463.40)" font-size="25.41">2</text>
<text transform="matrix(1.090,0,0,1,441.92,623.90)" font-size="25.41">0</text><text transform="matrix(1.090,0,0,1,457.31,623.90)" font-size="25.41">.</text><text transform="matrix(1.090,0,0,1,465.01,623.90)" font-size="25.41">4</text>
<text transform="matrix(1.090,0,0,1,35.51,357.00)" font-size="25.41">0</text><text transform="matrix(1.090,0,0,1,50.91,357.00)" font-size="25.41">.</text><text transform="matrix(1.090,0,0,1,58.60,357.00)" font-size="25.41">4</text>
<text transform="matrix(1.090,0,0,1,605.70,623.90)" font-size="25.41">0</text><text transform="matrix(1.090,0,0,1,621.09,623.90)" font-size="25.41">.</text><text transform="matrix(1.090,0,0,1,628.79,623.90)" font-size="25.41">6</text>
<text transform="matrix(1.090,0,0,1,35.51,250.60)" font-size="25.41">0</text><text transform="matrix(1.090,0,0,1,50.91,250.60)" font-size="25.41">.</text><text transform="matrix(1.090,0,0,1,58.60,250.60)" font-size="25.41">6</text>
<text transform="matrix(1.090,0,0,1,769.48,623.90)" font-size="25.41">0</text><text transform="matrix(1.090,0,0,1,784.87,623.90)" font-size="25.41">.</text><text transform="matrix(1.090,0,0,1,792.57,623.90)" font-size="25.41">8</text>
<text transform="matrix(1.090,0,0,1,35.51,144.20)" font-size="25.41">0</text><text transform="matrix(1.090,0,0,1,50.91,144.20)" font-size="25.41">.</text><text transform="matrix(1.090,0,0,1,58.60,144.20)" font-size="25.41">8</text>
<text transform="matrix(1.090,0,0,1,933.26,623.90)" font-size="25.41">1</text><text transform="matrix(1.090,0,0,1,948.65,623.90)" font-size="25.41">.</text><text transform="matrix(1.090,0,0,1,956.35,623.90)" font-size="25.41">0</text>
<text transform="matrix(1.090,0,0,1,35.51,37.80)" font-size="25.41">1</text><text transform="matrix(1.090,0,0,1,50.91,37.80)" font-size="25.41">.</text><text transform="matrix(1.090,0,0,1,58.60,37.80)" font-size="25.41">0</text>
<text transform="matrix(0.897,0,0,1,429.04,659.00)" font-size="25.41">F</text><text transform="matrix(1.049,0,0,1,442.96,659.00)" font-size="25.41">a</text><text transform="matrix(1.191,0,0,1,457.78,659.00)" font-size="25.41">l</text><text transform="matrix(0.992,0,0,1,464.51,659.00)" font-size="25.41">s</text><text transform="matrix(1.054,0,0,1,477.12,659.00)" font-size="25.41">e</text><text transform="matrix(0.861,0,0,1,499.70,659.00)" font-size="25.41">P</text><text transform="matrix(1.048,0,0,1,514.29,659.00)" font-size="25.41">o</text><text transform="matrix(0.992,0,0,1,529.10,659.00)" font-size="25.41">s</text><text transform="matrix(1.191,0,0,1,541.70,659.00)" font-size="25.41">i</text><text transform="matrix(1.344,0,0,1,548.43,659.00)" font-size="25.41">t</text><text transform="matrix(1.191,0,0,1,557.92,659.00)" font-size="25.41">i</text><text transform="matrix(1.127,0,0,1,564.64,659.00)" font-size="25.41">v</text><text transform="matrix(1.054,0,0,1,578.96,659.00)" font-size="25.41">e</text><text transform="matrix(0.916,0,0,1,601.54,659.00)" font-size="25.41">R</text><text transform="matrix(1.049,0,0,1,618.36,659.00)" font-size="25.41">a</text><text transform="matrix(1.344,0,0,1,633.19,659.00)" font-size="25.41">t</text><text transform="matrix(1.054,0,0,1,642.68,659.00)" font-size="25.41">e</text>
<g transform="translate(20.0,294.8) rotate(-90) "><text transform="matrix(0.952,0,0,1,-110.26,0.00)" font-size="25.41">T</text><text transform="matrix(1.176,0,0,1,-95.48,0.00)" font-size="25.41">r</text><text transform="matrix(1.085,0,0,1,-85.53,0.00)" font-size="25.41">u</text><text transform="matrix(1.054,0,0,1,-70.19,0.00)" font-size="25.41">e</text><text transform="matrix(0.861,0,0,1,-47.61,0.00)" font-size="25.41">P</text><text transform="matrix(1.048,0,0,1,-33.02,0.00)" font-size="25.41">o</text><text transform="matrix(0.992,0,0,1,-18.21,0.00)" font-size="25.41">s</text><text transform="matrix(1.191,0,0,1,-5.60,0.00)" font-size="25.41">i</text><text transform="matrix(1.344,0,0,1,1.12,0.00)" font-size="25.41">t</text><text transform="matrix(1.191,0,0,1,10.61,0.00)" font-size="25.41">i</text><text transform="matrix(1.127,0,0,1,17.33,0.00)" font-size="25.41">v</text><text transform="matrix(1.054,0,0,1,31.66,0.00)" font-size="25.41">e</text><text transform="matrix(0.916,0,0,1,54.24,0.00)" font-size="25.41">R</text><text transform="matrix(1.049,0,0,1,71.05,0.00)" font-size="25.41">a</text><text transform="matrix(1.344,0,0,1,85.88,0.00)" font-size="25.41">t</text><text transform="matrix(1.054,0,0,1,95.37,0.00)" font-size="25.41">e</text></g>
<rect x="482.5" y="317.8" width="498.9" height="255.9" rx="4" ry="4" fill="#fff" fill-opacity="0.8" stroke="#cccccc" stroke-opacity="0.8" stroke-width="2"/>
<line x1="492.1" y1="336.9" x2="540.8" y2="336.9" stroke="#0000ff" stroke-opacity="0.8" stroke-width="5.3" stroke-linecap="square"/>
<text transform="matrix(0.977,0,0,1,560.30,345.80)" font-size="25.41">A</text><text transform="matrix(0.987,0,0,1,576.85,345.80)" font-size="25.41">N</text><text transform="matrix(0.987,0,0,1,594.96,345.80)" font-size="25.41">N</text><text transform="matrix(1.116,0,0,1,620.75,345.80)" font-size="25.41">(</text><text transform="matrix(1.114,0,0,1,630.19,345.80)" font-size="25.41">m</text><text transform="matrix(1.054,0,0,1,653.77,345.80)" font-size="25.41">e</text><text transform="matrix(1.049,0,0,1,668.66,345.80)" font-size="25.41">a</text><text transform="matrix(1.085,0,0,1,683.49,345.80)" font-size="25.41">n</text><text transform="matrix(1.049,0,0,1,706.52,345.80)" font-size="25.41">a</text><text transform="matrix(1.085,0,0,1,721.35,345.80)" font-size="25.41">u</text><text transform="matrix(1.047,0,0,1,736.68,345.80)" font-size="25.41">c</text><text transform="matrix(1.366,0,0,1,757.68,345.80)" font-size="25.41">=</text><text transform="matrix(1.090,0,0,1,785.65,345.80)" font-size="25.41">0</text><text transform="matrix(1.090,0,0,1,801.05,345.80)" font-size="25.41">.</text><text transform="matrix(1.090,0,0,1,808.74,345.80)" font-size="25.41">9</text><text transform="matrix(1.090,0,0,1,824.14,345.80)" font-size="25.41">3</text><text transform="matrix(1.400,0,0,1,847.60,345.80)" font-size="25.41">±</text><text transform="matrix(1.090,0,0,1,875.20,345.80)" font-size="25.41">0</text><text transform="matrix(1.090,0,0,1,890.59,345.80)" font-size="25.41">.</text><text transform="matrix(1.090,0,0,1,898.28,345.80)" font-size="25.41">0</text><text transform="matrix(1.090,0,0,1,913.68,345.80)" font-size="25.41">3</text><text transform="matrix(1.116,0,0,1,929.08,345.80)" font-size="25.41">)</text>
<line x1="492.1" y1="372.5" x2="540.8" y2="372.5" stroke="#a52a2a" stroke-opacity="0.8" stroke-width="5.3" stroke-dasharray="26.9 53.8"/>
<text transform="matrix(0.916,0,0,1,560.30,381.40)" font-size="25.41">R</text><text transform="matrix(0.897,0,0,1,577.11,381.40)" font-size="25.41">F</text><text transform="matrix(1.116,0,0,1,598.73,381.40)" font-size="25.41">(</text><text transform="matrix(1.114,0,0,1,608.17,381.40)" font-size="25.41">m</text><text transform="matrix(1.054,0,0,1,631.74,381.40)" font-size="25.41">e</text><text transform="matrix(1.049,0,0,1,646.63,381.40)" font-size="25.41">a</text><text transform="matrix(1.085,0,0,1,661.46,381.40)" font-size="25.41">n</text><text transform="matrix(1.049,0,0,1,684.49,381.40)" font-size="25.41">a</text><text transform="matrix(1.085,0,0,1,699.32,381.40)" font-size="25.41">u</text><text transform="matrix(1.047,0,0,1,714.66,381.40)" font-size="25.41">c</text><text transform="matrix(1.366,0,0,1,735.66,381.40)" font-size="25.41">=</text><text transform="matrix(1.090,0,0,1,763.62,381.40)" font-size="25.41">0</text><text transform="matrix(1.090,0,0,1,779.02,381.40)" font-size="25.41">.</text><text transform="matrix(1.090,0,0,1,786.71,381.40)" font-size="25.41">8</text><text transform="matrix(1.090,0,0,1,802.11,381.40)" font-size="25.41">6</text><text transform="matrix(1.400,0,0,1,825.58,381.40)" font-size="25.41">±</text><text transform="matrix(1.090,0,0,1,853.17,381.40)" font-size="25.41">0</text><text transform="matrix(1.090,0,0,1,868.57,381.40)" font-size="25.41">.</text><text transform="matrix(1.090,0,0,1,876.26,381.40)" font-size="25.41">0</text><text transform="matrix(1.090,0,0,1,891.66,381.40)" font-size="25.41">3</text><text transform="matrix(1.116,0,0,1,907.05,381.40)" font-size="25.41">)</text>
<line x1="492.1" y1="408.1" x2="540.8" y2="408.1" stroke="#daa520" stroke-opacity="0.8" stroke-width="5.3" stroke-dasharray="19.9 8.8"/>
<text transform="matrix(0.954,0,0,1,560.30,417.00)" font-size="25.41">L</text><text transform="matrix(0.964,0,0,1,573.78,417.00)" font-size="25.41">O</text><text transform="matrix(0.949,0,0,1,592.83,417.00)" font-size="25.41">G</text><text transform="matrix(1.011,0,0,1,611.58,417.00)" font-size="25.41">I</text><text transform="matrix(0.952,0,0,1,618.72,417.00)" font-size="25.41">T</text><text transform="matrix(1.116,0,0,1,641.20,417.00)" font-size="25.41">(</text><text transform="matrix(1.114,0,0,1,650.64,417.00)" font-size="25.41">m</text><text transform="matrix(1.054,0,0,1,674.21,417.00)" font-size="25.41">e</text><text transform="matrix(1.049,0,0,1,689.10,417.00)" font-size="25.41">a</text><text transform="matrix(1.085,0,0,1,703.93,417.00)" font-size="25.41">n</text><text transform="matrix(1.049,0,0,1,726.96,417.00)" font-size="25.41">a</text><text transform="matrix(1.085,0,0,1,741.79,417.00)" font-size="25.41">u</text><text transform="matrix(1.047,0,0,1,757.13,417.00)" font-size="25.41">c</text><text transform="matrix(1.366,0,0,1,778.12,417.00)" font-size="25.41">=</text><text transform="matrix(1.090,0,0,1,806.09,417.00)" font-size="25.41">0</text><text transform="matrix(1.090,0,0,1,821.49,417.00)" font-size="25.41">.</text><text transform="matrix(1.090,0,0,1,829.18,417.00)" font-size="25.41">8</text><text transform="matrix(1.090,0,0,1,844.58,417.00)" font-size="25.41">2</text><text transform="matrix(1.400,0,0,1,868.04,417.00)" font-size="25.41">±</text><text transform="matrix(1.090,0,0,1,895.64,417.00)" font-size="25.41">0</text><text transform="matrix(1.090,0,0,1,911.03,417.00)" font-size="25.41">.</text><text transform="matrix(1.090,0,0,1,918.73,417.00)" font-size="25.41">0</text><text transform="matrix(1.090,0,0,1,934.12,417.00)" font-size="25.41">3</text><text transform="matrix(1.116,0,0,1,949.52,417.00)" font-size="25.41">)</text>
<line x1="492.1" y1="443.7" x2="540.8" y2="443.7" stroke="#00ffff" stroke-opacity="0.8" stroke-width="5.3" stroke-dasharray="16.1 53.8 5.4 53.8"/>
<text transform="matrix(0.906,0,0,1,560.30,452.60)" font-size="25.41">S</text><text transform="matrix(0.949,0,0,1,575.66,452.60)" font-size="25.41">G</text><text transform="matrix(1.015,0,0,1,594.41,452.60)" font-size="25.41">D</text><text transform="matrix(1.116,0,0,1,620.74,452.60)" font-size="25.41">(</text><text transform="matrix(1.114,0,0,1,630.18,452.60)" font-size="25.41">m</text><text transform="matrix(1.054,0,0,1,653.76,452.60)" font-size="25.41">e</text><text transform="matrix(1.049,0,0,1,668.64,452.60)" font-size="25.41">a</text><text transform="matrix(1.085,0,0,1,683.47,452.60)" font-size="25.41">n</text><text transform="matrix(1.049,0,0,1,706.50,452.60)" font-size="25.41">a</text><text transform="matrix(1.085,0,0,1,721.33,452.60)" font-size="25.41">u</text><text transform="matrix(1.047,0,0,1,736.67,452.60)" font-size="25.41">c</text><text transform="matrix(1.366,0,0,1,757.67,452.60)" font-size="25.41">=</text><text transform="matrix(1.090,0,0,1,785.64,452.60)" font-size="25.41">0</text><text transform="matrix(1.090,0,0,1,801.04,452.60)" font-size="25.41">.</text><text transform="matrix(1.090,0,0,1,808.73,452.60)" font-size="25.41">8</text><text transform="matrix(1.090,0,0,1,824.12,452.60)" font-size="25.41">2</text><text transform="matrix(1.400,0,0,1,847.59,452.60)" font-size="25.41">±</text><text transform="matrix(1.090,0,0,1,875.18,452.60)" font-size="25.41">0</text><text transform="matrix(1.090,0,0,1,890.58,452.60)" font-size="25.41">.</text><text transform="matrix(1.090,0,0,1,898.27,452.60)" font-size="25.41">0</text><text transform="matrix(1.090,0,0,1,913.67,452.60)" font-size="25.41">4</text><text transform="matrix(1.116,0,0,1,929.07,452.60)" font-size="25.41">)</text>
<line x1="492.1" y1="479.3" x2="540.8" y2="479.3" stroke="#ff00ff" stroke-opacity="0.8" stroke-width="5.3" stroke-dasharray="16.1 26.9 5.4 26.9"/>
<text transform="matrix(0.954,0,0,1,560.30,488.20)" font-size="25.41">L</text><text transform="matrix(1.011,0,0,1,573.78,488.20)" font-size="25.41">I</text><text transform="matrix(0.987,0,0,1,580.92,488.20)" font-size="25.41">N</text><text transform="matrix(0.902,0,0,1,599.02,488.20)" font-size="25.41">E</text><text transform="matrix(0.977,0,0,1,614.31,488.20)" font-size="25.41">A</text><text transform="matrix(0.916,0,0,1,630.87,488.20)" font-size="25.41">R</text><text transform="matrix(1.116,0,0,1,655.37,488.20)" font-size="25.41">(</text><text transform="matrix(1.114,0,0,1,664.82,488.20)" font-size="25.41">m</text><text transform="matrix(1.054,0,0,1,688.39,488.20)" font-size="25.41">e</text><text transform="matrix(1.049,0,0,1,703.28,488.20)" font-size="25.41">a</text><text transform="matrix(1.085,0,0,1,718.11,488.20)" font-size="25.41">n</text><text transform="matrix(1.049,0,0,1,741.14,488.20)" font-size="25.41">a</text><text transform="matrix(1.085,0,0,1,755.97,488.20)" font-size="25.41">u</text><text transform="matrix(1.047,0,0,1,771.31,488.20)" font-size="25.41">c</text><text transform="matrix(1.366,0,0,1,792.30,488.20)" font-size="25.41">=</text><text transform="matrix(1.090,0,0,1,820.27,488.20)" font-size="25.41">0</text><text transform="matrix(1.090,0,0,1,835.67,488.20)" font-size="25.41">.</text><text transform="matrix(1.090,0,0,1,843.36,488.20)" font-size="25.41">8</text><text transform="matrix(1.090,0,0,1,858.76,488.20)" font-size="25.41">0</text><text transform="matrix(1.400,0,0,1,882.22,488.20)" font-size="25.41">±</text><text transform="matrix(1.090,0,0,1,909.82,488.20)" font-size="25.41">0</text><text transform="matrix(1.090,0,0,1,925.21,488.20)" font-size="25.41">.</text><text transform="matrix(1.090,0,0,1,932.91,488.20)" font-size="25.41">0</text><text transform="matrix(1.090,0,0,1,948.30,488.20)" font-size="25.41">2</text><text transform="matrix(1.116,0,0,1,963.70,488.20)" font-size="25.41">)</text>
<line x1="492.1" y1="514.9" x2="540.8" y2="514.9" stroke="#ff69b4" stroke-opacity="0.8" stroke-width="5.3" stroke-dasharray="5.4 8.9"/>
<text transform="matrix(0.906,0,0,1,560.30,523.80)" font-size="25.41">S</text><text transform="matrix(0.977,0,0,1,575.66,523.80)" font-size="25.41">V</text><text transform="matrix(0.986,0,0,1,592.22,523.80)" font-size="25.41">M</text><text transform="matrix(1.116,0,0,1,620.79,523.80)" font-size="25.41">(</text><text transform="matrix(1.114,0,0,1,630.23,523.80)" font-size="25.41">m</text><text transform="matrix(1.054,0,0,1,653.80,523.80)" font-size="25.41">e</text><text transform="matrix(1.049,0,0,1,668.69,523.80)" font-size="25.41">a</text><text transform="matrix(1.085,0,0,1,683.52,523.80)" font-size="25.41">n</text><text transform="matrix(1.049,0,0,1,706.55,523.80)" font-size="25.41">a</text><text transform="matrix(1.085,0,0,1,721.38,523.80)" font-size="25.41">u</text><text transform="matrix(1.047,0,0,1,736.72,523.80)" font-size="25.41">c</text><text transform="matrix(1.366,0,0,1,757.72,523.80)" font-size="25.41">=</text><text transform="matrix(1.090,0,0,1,785.69,523.80)" font-size="25.41">0</text><text transform="matrix(1.090,0,0,1,801.08,523.80)" font-size="25.41">.</text><text transform="matrix(1.090,0,0,1,808.78,523.80)" font-size="25.41">7</text><text transform="matrix(1.090,0,0,1,824.17,523.80)" font-size="25.41">9</text><text transform="matrix(1.400,0,0,1,847.64,523.80)" font-size="25.41">±</text><text transform="matrix(1.090,0,0,1,875.23,523.80)" font-size="25.41">0</text><text transform="matrix(1.090,0,0,1,890.63,523.80)" font-size="25.41">.</text><text transform="matrix(1.090,0,0,1,898.32,523.80)" font-size="25.41">0</text><text transform="matrix(1.090,0,0,1,913.72,523.80)" font-size="25.41">4</text><text transform="matrix(1.116,0,0,1,929.11,523.80)" font-size="25.41">)</text>
<line x1="492.1" y1="550.5" x2="540.8" y2="550.5" stroke="#808000" stroke-opacity="0.8" stroke-width="5.3" stroke-dasharray="5.4 53.8"/>
<text transform="matrix(1.015,0,0,1,560.30,559.40)" font-size="25.41">D</text><text transform="matrix(0.952,0,0,1,578.93,559.40)" font-size="25.41">T</text><text transform="matrix(1.116,0,0,1,601.41,559.40)" font-size="25.41">(</text><text transform="matrix(1.114,0,0,1,610.85,559.40)" font-size="25.41">m</text><text transform="matrix(1.054,0,0,1,634.42,559.40)" font-size="25.41">e</text><text transform="matrix(1.049,0,0,1,649.31,559.40)" font-size="25.41">a</text><text transform="matrix(1.085,0,0,1,664.14,559.40)" font-size="25.41">n</text><text transform="matrix(1.049,0,0,1,687.17,559.40)" font-size="25.41">a</text><text transform="matrix(1.085,0,0,1,702.00,559.40)" font-size="25.41">u</text><text transform="matrix(1.047,0,0,1,717.34,559.40)" font-size="25.41">c</text><text transform="matrix(1.366,0,0,1,738.34,559.40)" font-size="25.41">=</text><text transform="matrix(1.090,0,0,1,766.31,559.40)" font-size="25.41">0</text><text transform="matrix(1.090,0,0,1,781.70,559.40)" font-size="25.41">.</text><text transform="matrix(1.090,0,0,1,789.40,559.40)" font-size="25.41">7</text><text transform="matrix(1.090,0,0,1,804.79,559.40)" font-size="25.41">8</text><text transform="matrix(1.400,0,0,1,828.26,559.40)" font-size="25.41">±</text><text transform="matrix(1.090,0,0,1,855.85,559.40)" font-size="25.41">0</text><text transform="matrix(1.090,0,0,1,871.25,559.40)" font-size="25.41">.</text><text transform="matrix(1.090,0,0,1,878.94,559.40)" font-size="25.41">0</text><text transform="matrix(1.090,0,0,1,894.34,559.40)" font-size="25.41">4</text><text transform="matrix(1.116,0,0,1,909.73,559.40)" font-size="25.41">)</text>
</svg>
</body></html>
